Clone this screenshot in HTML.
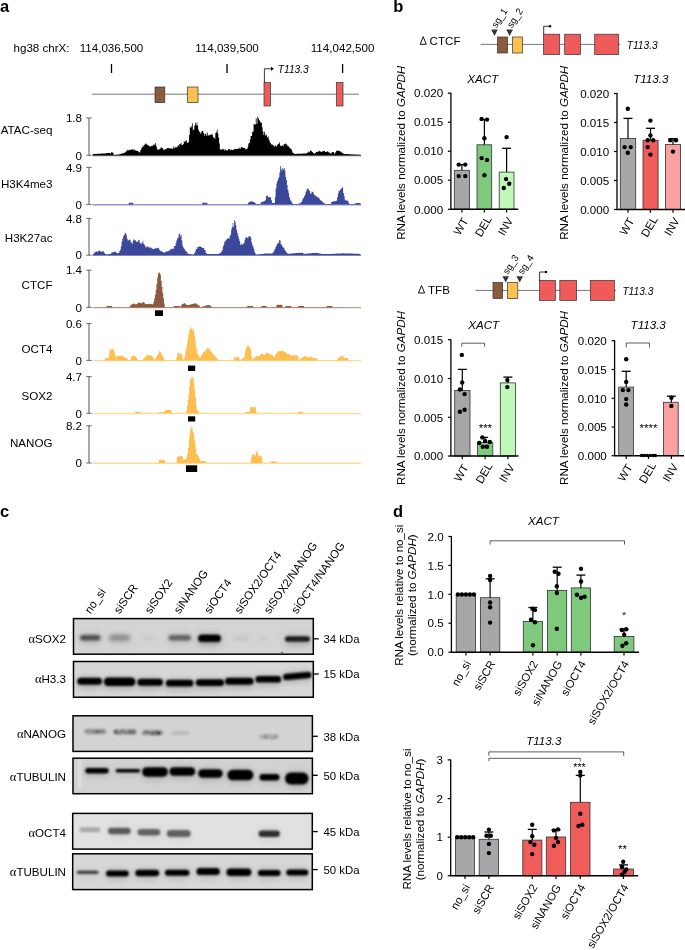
<!DOCTYPE html>
<html><head><meta charset="utf-8"><style>
html,body{margin:0;padding:0;background:#fff;width:685px;height:950px;overflow:hidden;}
svg{display:block;will-change:transform;}
text{font-family:"Liberation Sans",sans-serif;fill:#000;}
</style></head><body>
<svg width="685" height="950" viewBox="0 0 685 950">
<defs>
<filter id="b5" x="-30%" y="-200%" width="160%" height="500%"><feGaussianBlur stdDeviation="0.5"/></filter>
<filter id="b6" x="-30%" y="-200%" width="160%" height="500%"><feGaussianBlur stdDeviation="0.6"/></filter>
<filter id="b7" x="-30%" y="-200%" width="160%" height="500%"><feGaussianBlur stdDeviation="0.7"/></filter>
<filter id="b8" x="-30%" y="-200%" width="160%" height="500%"><feGaussianBlur stdDeviation="0.8"/></filter>
<filter id="b9" x="-30%" y="-200%" width="160%" height="500%"><feGaussianBlur stdDeviation="0.9"/></filter>
<filter id="b10" x="-30%" y="-200%" width="160%" height="500%"><feGaussianBlur stdDeviation="1.0"/></filter>
<filter id="b11" x="-30%" y="-200%" width="160%" height="500%"><feGaussianBlur stdDeviation="1.1"/></filter>
<filter id="b12" x="-30%" y="-200%" width="160%" height="500%"><feGaussianBlur stdDeviation="1.2"/></filter>
<filter id="b13" x="-30%" y="-200%" width="160%" height="500%"><feGaussianBlur stdDeviation="1.3"/></filter>
<filter id="b14" x="-30%" y="-200%" width="160%" height="500%"><feGaussianBlur stdDeviation="1.4"/></filter>
<filter id="b15" x="-30%" y="-200%" width="160%" height="500%"><feGaussianBlur stdDeviation="1.5"/></filter>
<filter id="b16" x="-30%" y="-200%" width="160%" height="500%"><feGaussianBlur stdDeviation="1.6"/></filter>
<filter id="b17" x="-30%" y="-200%" width="160%" height="500%"><feGaussianBlur stdDeviation="1.7"/></filter>
<filter id="b18" x="-30%" y="-200%" width="160%" height="500%"><feGaussianBlur stdDeviation="1.8"/></filter>
<filter id="b19" x="-30%" y="-200%" width="160%" height="500%"><feGaussianBlur stdDeviation="1.9"/></filter>
<filter id="b20" x="-30%" y="-200%" width="160%" height="500%"><feGaussianBlur stdDeviation="2.0"/></filter>
<filter id="b21" x="-30%" y="-200%" width="160%" height="500%"><feGaussianBlur stdDeviation="2.1"/></filter>
<filter id="b22" x="-30%" y="-200%" width="160%" height="500%"><feGaussianBlur stdDeviation="2.2"/></filter>
<filter id="b23" x="-30%" y="-200%" width="160%" height="500%"><feGaussianBlur stdDeviation="2.3"/></filter>
<filter id="b24" x="-30%" y="-200%" width="160%" height="500%"><feGaussianBlur stdDeviation="2.4"/></filter>
<filter id="b25" x="-30%" y="-200%" width="160%" height="500%"><feGaussianBlur stdDeviation="2.5"/></filter>
<filter id="b26" x="-30%" y="-200%" width="160%" height="500%"><feGaussianBlur stdDeviation="2.6"/></filter>
<filter id="b27" x="-30%" y="-200%" width="160%" height="500%"><feGaussianBlur stdDeviation="2.7"/></filter>
<filter id="b28" x="-30%" y="-200%" width="160%" height="500%"><feGaussianBlur stdDeviation="2.8"/></filter>
<filter id="b29" x="-30%" y="-200%" width="160%" height="500%"><feGaussianBlur stdDeviation="2.9"/></filter>
<filter id="b30" x="-30%" y="-200%" width="160%" height="500%"><feGaussianBlur stdDeviation="3.0"/></filter>
<filter id="spk" x="-20%" y="-150%" width="140%" height="400%" color-interpolation-filters="sRGB"><feTurbulence type="fractalNoise" baseFrequency="0.28 0.45" numOctaves="1" seed="7" result="nz"/><feColorMatrix in="nz" type="matrix" values="0 0 0 0 0  0 0 0 0 0  0 0 0 0 0  0 0 0 2.2 -0.55" result="na"/><feComposite in="SourceGraphic" in2="na" operator="in" result="c"/><feGaussianBlur in="c" stdDeviation="1.0"/></filter>
</defs>
<text x="0.0" y="11.8" font-size="16.5" font-weight="bold">a</text>
<text x="13.5" y="51.7" font-size="11.6">hg38 chrX:</text>
<text x="111.5" y="51.7" font-size="11.6" text-anchor="middle">114,036,500</text>
<text x="227.0" y="51.7" font-size="11.6" text-anchor="middle">114,039,500</text>
<text x="342.6" y="51.7" font-size="11.6" text-anchor="middle">114,042,500</text>
<line x1="111.5" y1="64.0" x2="111.5" y2="73.0" stroke="#000" stroke-width="1.3"/>
<line x1="227.0" y1="64.0" x2="227.0" y2="73.0" stroke="#000" stroke-width="1.3"/>
<line x1="342.6" y1="64.0" x2="342.6" y2="73.0" stroke="#000" stroke-width="1.3"/>
<line x1="92.0" y1="94.2" x2="359.0" y2="94.2" stroke="#6a6a6a" stroke-width="0.9"/>
<rect x="155.0" y="87.0" width="9.8" height="15.6" fill="#8c5a3c" stroke="#333" stroke-width="0.7"/>
<rect x="187.5" y="87.0" width="10.5" height="15.5" fill="#fcc24d" stroke="#333" stroke-width="0.7"/>
<rect x="264.0" y="82.5" width="6.5" height="23.5" fill="#ef5a5a" stroke="#333" stroke-width="0.7"/>
<rect x="336.5" y="82.5" width="6.5" height="23.5" fill="#ef5a5a" stroke="#333" stroke-width="0.7"/>
<path d="M264.4,82.5 V68.8 H271" fill="none" stroke="#000" stroke-width="0.8"/>
<path d="M271,66.8 L274,68.8 L271,70.8 Z" fill="#000"/>
<text x="277.8" y="72.7" font-size="10.2" font-style="italic">T113.3</text>
<text x="52.5" y="133.7" font-size="11.6" text-anchor="end">ATAC-seq</text>
<text x="82.0" y="122.2" font-size="11.6" text-anchor="end">1.8</text>
<text x="82.0" y="159.5" font-size="11.6" text-anchor="end">0</text>
<line x1="89.0" y1="118.0" x2="89.0" y2="155.3" stroke="#707070" stroke-width="1.2"/>
<line x1="86.3" y1="118.0" x2="91.6" y2="118.0" stroke="#707070" stroke-width="1.1"/>
<line x1="86.3" y1="155.3" x2="91.6" y2="155.3" stroke="#707070" stroke-width="1.1"/>
<line x1="92.5" y1="155.5" x2="361" y2="155.5" stroke="#000" stroke-width="1.4" stroke-opacity="0.55"/>
<polygon points="92.5,155.3 93.1,154.0 93.8,154.0 93.8,154.0 94.6,154.0 94.6,153.9 95.3,153.9 95.3,153.9 96.1,153.9 96.1,153.9 96.8,153.9 96.8,153.8 97.6,153.8 97.6,153.8 98.3,153.8 98.3,153.8 99.1,153.8 99.1,153.7 99.8,153.7 99.8,153.7 100.6,153.7 100.6,153.7 101.3,153.7 101.3,153.6 102.1,153.6 102.1,153.6 102.8,153.6 102.8,153.6 103.6,153.6 103.6,153.5 104.3,153.5 104.3,153.5 105.1,153.5 105.1,153.4 105.8,153.4 105.8,153.3 106.6,153.3 106.6,153.2 107.3,153.2 107.3,153.1 108.1,153.1 108.1,152.9 108.8,152.9 108.8,152.9 109.6,152.9 109.6,153.0 110.3,153.0 110.3,153.4 111.1,153.4 111.1,152.1 111.8,152.1 111.8,152.8 112.6,152.8 112.6,152.3 113.3,152.3 113.3,154.6 114.1,154.6 114.1,154.9 114.8,154.9 114.8,154.9 115.6,154.9 115.6,154.8 116.3,154.8 116.3,154.7 117.1,154.7 117.1,154.7 117.8,154.7 117.8,154.6 118.6,154.6 118.6,154.5 119.3,154.5 119.3,154.3 120.1,154.3 120.1,154.1 120.8,154.1 120.8,153.8 121.6,153.8 121.6,153.6 122.3,153.6 122.3,153.4 123.1,153.4 123.1,153.1 123.8,153.1 123.8,152.9 124.6,152.9 124.6,152.5 125.3,152.5 125.3,151.7 126.1,151.7 126.1,151.3 126.8,151.3 126.8,150.4 127.6,150.4 127.6,149.5 128.3,149.5 128.3,150.5 129.1,150.5 129.1,150.0 129.8,150.0 129.8,149.7 130.6,149.7 130.6,149.7 131.3,149.7 131.3,149.6 132.1,149.6 132.1,149.3 132.8,149.3 132.8,149.4 133.6,149.4 133.6,150.5 134.3,150.5 134.3,149.6 135.1,149.6 135.1,150.4 135.8,150.4 135.8,150.6 136.6,150.6 136.6,151.1 137.3,151.1 137.3,151.0 138.1,151.0 138.1,151.6 138.8,151.6 138.8,152.6 139.6,152.6 139.6,152.3 140.3,152.3 140.3,149.9 141.1,149.9 141.1,148.7 141.8,148.7 141.8,147.3 142.6,147.3 142.6,145.5 143.3,145.5 143.3,146.4 144.1,146.4 144.1,145.1 144.8,145.1 144.8,143.8 145.6,143.8 145.6,143.4 146.3,143.4 146.3,144.5 147.1,144.5 147.1,144.7 147.8,144.7 147.8,145.5 148.6,145.5 148.6,145.5 149.3,145.5 149.3,146.5 150.1,146.5 150.1,146.4 150.8,146.4 150.8,146.3 151.6,146.3 151.6,145.4 152.3,145.4 152.3,146.1 153.1,146.1 153.1,144.6 153.8,144.6 153.8,144.6 154.6,144.6 154.6,145.3 155.3,145.3 155.3,142.9 156.1,142.9 156.1,146.4 156.8,146.4 156.8,148.7 157.6,148.7 157.6,150.3 158.3,150.3 158.3,149.6 159.1,149.6 159.1,149.2 159.8,149.2 159.8,148.7 160.6,148.7 160.6,147.5 161.3,147.5 161.3,147.5 162.1,147.5 162.1,148.1 162.8,148.1 162.8,149.5 163.6,149.5 163.6,149.4 164.3,149.4 164.3,149.9 165.1,149.9 165.1,148.9 165.8,148.9 165.8,149.2 166.6,149.2 166.6,148.3 167.3,148.3 167.3,148.0 168.1,148.0 168.1,148.1 168.8,148.1 168.8,148.4 169.6,148.4 169.6,148.0 170.3,148.0 170.3,148.7 171.1,148.7 171.1,148.2 171.8,148.2 171.8,148.7 172.6,148.7 172.6,148.7 173.3,148.7 173.3,146.6 174.1,146.6 174.1,148.2 174.8,148.2 174.8,147.6 175.6,147.6 175.6,146.8 176.3,146.8 176.3,147.4 177.1,147.4 177.1,146.7 177.8,146.7 177.8,145.0 178.6,145.0 178.6,146.3 179.3,146.3 179.3,144.0 180.1,144.0 180.1,144.3 180.8,144.3 180.8,143.1 181.6,143.1 181.6,145.0 182.3,145.0 182.3,145.0 183.1,145.0 183.1,144.1 183.8,144.1 183.8,141.2 184.6,141.2 184.6,142.2 185.3,142.2 185.3,140.8 186.1,140.8 186.1,140.2 186.8,140.2 186.8,142.7 187.6,142.7 187.6,143.1 188.3,143.1 188.3,141.8 189.1,141.8 189.1,135.0 189.8,135.0 189.8,126.9 190.6,126.9 190.6,127.9 191.3,127.9 191.3,125.9 192.1,125.9 192.1,123.3 192.8,123.3 192.8,130.2 193.6,130.2 193.6,129.2 194.3,129.2 194.3,125.5 195.1,125.5 195.1,122.7 195.8,122.7 195.8,125.3 196.6,125.3 196.6,122.4 197.3,122.4 197.3,125.4 198.1,125.4 198.1,129.5 198.8,129.5 198.8,131.6 199.6,131.6 199.6,132.0 200.3,132.0 200.3,133.8 201.1,133.8 201.1,132.3 201.8,132.3 201.8,130.7 202.6,130.7 202.6,131.1 203.3,131.1 203.3,133.1 204.1,133.1 204.1,135.7 204.8,135.7 204.8,133.9 205.6,133.9 205.6,133.4 206.3,133.4 206.3,135.9 207.1,135.9 207.1,132.5 207.8,132.5 207.8,135.3 208.6,135.3 208.6,135.7 209.3,135.7 209.3,134.8 210.1,134.8 210.1,135.1 210.8,135.1 210.8,134.6 211.6,134.6 211.6,133.8 212.3,133.8 212.3,135.3 213.1,135.3 213.1,137.4 213.8,137.4 213.8,137.4 214.6,137.4 214.6,138.9 215.3,138.9 215.3,133.1 216.1,133.1 216.1,132.3 216.8,132.3 216.8,129.7 217.6,129.7 217.6,133.6 218.3,133.6 218.3,137.5 219.1,137.5 219.1,143.5 219.8,143.5 219.8,149.5 220.6,149.5 220.6,149.4 221.3,149.4 221.3,149.6 222.1,149.6 222.1,149.2 222.8,149.2 222.8,149.3 223.6,149.3 223.6,149.0 224.3,149.0 224.3,150.4 225.1,150.4 225.1,149.6 225.8,149.6 225.8,150.1 226.6,150.1 226.6,150.8 227.3,150.8 227.3,150.6 228.1,150.6 228.1,149.0 228.8,149.0 228.8,149.1 229.6,149.1 229.6,149.4 230.3,149.4 230.3,150.3 231.1,150.3 231.1,149.6 231.8,149.6 231.8,150.1 232.6,150.1 232.6,150.3 233.3,150.3 233.3,149.5 234.1,149.5 234.1,149.3 234.8,149.3 234.8,148.8 235.6,148.8 235.6,149.3 236.3,149.3 236.3,148.8 237.1,148.8 237.1,149.1 237.8,149.1 237.8,149.1 238.6,149.1 238.6,147.6 239.3,147.6 239.3,148.4 240.1,148.4 240.1,148.7 240.8,148.7 240.8,147.3 241.6,147.3 241.6,147.1 242.3,147.1 242.3,147.8 243.1,147.8 243.1,147.8 243.8,147.8 243.8,148.0 244.6,148.0 244.6,148.0 245.3,148.0 245.3,149.6 246.1,149.6 246.1,149.0 246.8,149.0 246.8,148.8 247.6,148.8 247.6,146.7 248.3,146.7 248.3,143.4 249.1,143.4 249.1,143.0 249.8,143.0 249.8,139.4 250.6,139.4 250.6,136.0 251.3,136.0 251.3,136.0 252.1,136.0 252.1,132.0 252.8,132.0 252.8,131.4 253.6,131.4 253.6,123.9 254.3,123.9 254.3,124.5 255.1,124.5 255.1,124.6 255.8,124.6 255.8,118.3 256.6,118.3 256.6,124.1 257.4,124.1 257.4,116.6 258.1,116.6 258.1,118.2 258.9,118.2 258.9,120.1 259.6,120.1 259.6,121.2 260.4,121.2 260.4,122.7 261.1,122.7 261.1,122.8 261.9,122.8 261.9,127.3 262.6,127.3 262.6,131.5 263.4,131.5 263.4,134.7 264.1,134.7 264.1,131.8 264.9,131.8 264.9,135.8 265.6,135.8 265.6,134.2 266.4,134.2 266.4,135.6 267.1,135.6 267.1,137.6 267.9,137.6 267.9,136.5 268.6,136.5 268.6,139.4 269.4,139.4 269.4,141.5 270.1,141.5 270.1,143.0 270.9,143.0 270.9,143.9 271.6,143.9 271.6,145.0 272.4,145.0 272.4,144.4 273.1,144.4 273.1,145.6 273.9,145.6 273.9,146.9 274.6,146.9 274.6,145.4 275.4,145.4 275.4,145.5 276.1,145.5 276.1,146.5 276.9,146.5 276.9,145.2 277.6,145.2 277.6,143.8 278.4,143.8 278.4,143.9 279.1,143.9 279.1,142.4 279.9,142.4 279.9,145.3 280.6,145.3 280.6,146.3 281.4,146.3 281.4,146.1 282.1,146.1 282.1,145.2 282.9,145.2 282.9,146.3 283.6,146.3 283.6,144.2 284.4,144.2 284.4,144.1 285.1,144.1 285.1,143.4 285.9,143.4 285.9,144.5 286.6,144.5 286.6,144.5 287.4,144.5 287.4,146.3 288.1,146.3 288.1,146.3 288.9,146.3 288.9,147.2 289.6,147.2 289.6,148.1 290.4,148.1 290.4,149.0 291.1,149.0 291.1,149.4 291.9,149.4 291.9,151.4 292.6,151.4 292.6,152.9 293.4,152.9 293.4,153.3 294.1,153.3 294.1,153.7 294.9,153.7 294.9,153.9 295.6,153.9 295.6,153.9 296.4,153.9 296.4,153.8 297.1,153.8 297.1,153.8 297.9,153.8 297.9,153.8 298.6,153.8 298.6,153.8 299.4,153.8 299.4,153.7 300.1,153.7 300.1,153.7 300.9,153.7 300.9,153.7 301.6,153.7 301.6,153.7 302.4,153.7 302.4,153.6 303.1,153.6 303.1,153.6 303.9,153.6 303.9,153.6 304.6,153.6 304.6,153.5 305.4,153.5 305.4,153.5 306.1,153.5 306.1,153.3 306.9,153.3 306.9,152.9 307.6,152.9 307.6,152.3 308.4,152.3 308.4,151.4 309.1,151.4 309.1,152.3 309.9,152.3 309.9,150.2 310.6,150.2 310.6,150.9 311.4,150.9 311.4,151.3 312.1,151.3 312.1,152.0 312.9,152.0 312.9,152.9 313.6,152.9 313.6,153.5 314.4,153.5 314.4,153.6 315.1,153.6 315.1,153.0 315.9,153.0 315.9,151.7 316.6,151.7 316.6,152.0 317.4,152.0 317.4,152.1 318.1,152.1 318.1,151.2 318.9,151.2 318.9,150.7 319.6,150.7 319.6,151.4 320.4,151.4 320.4,151.5 321.1,151.5 321.1,152.0 321.9,152.0 321.9,151.5 322.6,151.5 322.6,151.3 323.4,151.3 323.4,151.0 324.1,151.0 324.1,150.8 324.9,150.8 324.9,152.1 325.6,152.1 325.6,152.1 326.4,152.1 326.4,151.8 327.1,151.8 327.1,151.3 327.9,151.3 327.9,152.4 328.6,152.4 328.6,151.8 329.4,151.8 329.4,152.9 330.1,152.9 330.1,153.6 330.9,153.6 330.9,153.4 331.6,153.4 331.6,152.2 332.4,152.2 332.4,151.9 333.1,151.9 333.1,151.9 333.9,151.9 333.9,153.4 334.6,153.4 334.6,153.6 335.4,153.6 335.4,151.9 336.1,151.9 336.1,150.7 336.9,150.7 336.9,150.4 337.6,150.4 337.6,150.9 338.4,150.9 338.4,150.4 339.1,150.4 339.1,151.1 339.9,151.1 339.9,151.3 340.6,151.3 340.6,152.1 341.4,152.1 341.4,152.5 342.1,152.5 342.1,152.9 342.9,152.9 342.9,153.4 343.6,153.4 343.6,153.9 344.4,153.9 344.4,153.9 345.1,153.9 345.1,154.0 345.9,154.0 345.9,154.0 346.6,154.0 346.6,154.1 347.4,154.1 347.4,154.1 348.1,154.1 348.1,154.2 348.9,154.2 348.9,154.2 349.6,154.2 349.6,154.3 350.4,154.3 350.4,154.3 351.1,154.3 351.1,154.4 351.9,154.4 351.9,154.4 352.6,154.4 352.6,154.5 353.4,154.5 353.4,154.5 354.1,154.5 354.1,154.6 354.9,154.6 354.9,154.6 355.6,154.6 355.6,154.6 356.4,154.6 356.4,154.7 357.1,154.7 357.1,154.7 357.9,154.7 357.9,154.7 358.6,154.7 358.6,154.7 359.4,154.7 359.4,154.8 360.1,154.8 360.0,154.8 361,155.3" fill="#000"/>
<text x="52.5" y="188.3" font-size="11.6" text-anchor="end">H3K4me3</text>
<text x="82.0" y="171.6" font-size="11.6" text-anchor="end">4.9</text>
<text x="82.0" y="208.7" font-size="11.6" text-anchor="end">0</text>
<line x1="89.0" y1="167.4" x2="89.0" y2="204.5" stroke="#707070" stroke-width="1.2"/>
<line x1="86.3" y1="167.4" x2="91.6" y2="167.4" stroke="#707070" stroke-width="1.1"/>
<line x1="86.3" y1="204.5" x2="91.6" y2="204.5" stroke="#707070" stroke-width="1.1"/>
<line x1="92.5" y1="204.7" x2="361" y2="204.7" stroke="#3b479b" stroke-width="1.4" stroke-opacity="0.55"/>
<polygon points="92.5,204.5 127.9,204.4 128.7,204.4 128.7,202.8 129.4,202.8 129.4,202.8 130.2,202.8 130.2,202.8 130.9,202.8 130.9,202.8 131.7,202.8 131.7,202.8 132.4,202.8 132.4,202.8 133.2,202.8 133.2,204.4 133.9,204.4 133.9,204.4 134.7,204.4 134.7,204.4 135.4,204.4 135.4,204.4 136.2,204.4 136.2,204.4 136.9,204.4 136.9,204.4 137.7,204.4 137.7,204.4 138.4,204.4 138.4,204.4 139.2,204.4 139.2,204.4 139.9,204.4 139.9,204.4 140.7,204.4 140.7,204.4 141.4,204.4 141.4,204.4 142.2,204.4 142.2,204.4 142.9,204.4 142.9,204.4 143.7,204.4 143.7,204.4 144.4,204.4 144.4,204.4 145.2,204.4 145.2,204.4 145.9,204.4 145.9,204.4 146.7,204.4 146.7,204.4 147.4,204.4 147.4,204.4 148.2,204.4 148.2,204.4 148.9,204.4 148.9,204.4 149.7,204.4 149.7,204.4 150.4,204.4 150.4,204.4 151.2,204.4 151.2,204.4 151.9,204.4 151.9,204.4 152.7,204.4 152.7,204.4 153.4,204.4 153.4,204.4 154.2,204.4 154.2,204.4 154.9,204.4 154.9,204.4 155.7,204.4 155.7,204.4 156.4,204.4 156.4,204.4 157.2,204.4 157.2,204.4 157.9,204.4 157.9,204.4 158.7,204.4 158.7,204.4 159.4,204.4 159.4,204.4 160.2,204.4 160.2,204.4 160.9,204.4 160.9,204.4 161.7,204.4 161.7,204.4 162.4,204.4 162.4,204.4 163.2,204.4 163.2,204.4 163.9,204.4 163.9,204.4 164.7,204.4 164.7,204.4 165.4,204.4 165.4,204.4 166.2,204.4 166.2,204.4 166.9,204.4 166.9,204.4 167.7,204.4 167.7,204.4 168.4,204.4 168.4,204.4 169.2,204.4 169.2,204.4 169.9,204.4 169.9,204.4 170.7,204.4 170.7,204.4 171.4,204.4 171.4,204.4 172.2,204.4 172.2,204.4 172.9,204.4 172.9,204.4 173.7,204.4 173.7,204.4 174.4,204.4 174.4,204.4 175.2,204.4 175.2,204.4 175.9,204.4 175.9,204.4 176.7,204.4 176.7,204.4 177.4,204.4 177.4,204.4 178.2,204.4 178.2,204.4 178.9,204.4 178.9,204.4 179.7,204.4 179.7,204.4 180.4,204.4 180.4,204.4 181.2,204.4 181.2,204.4 181.9,204.4 181.9,204.4 182.7,204.4 182.7,204.4 183.4,204.4 183.4,204.4 184.2,204.4 184.2,204.4 184.9,204.4 184.9,204.4 185.7,204.4 185.7,204.4 186.4,204.4 186.4,204.4 187.2,204.4 187.2,204.4 187.9,204.4 187.9,204.4 188.7,204.4 188.7,204.4 189.4,204.4 189.4,204.4 190.2,204.4 190.2,204.4 190.9,204.4 190.9,204.4 191.7,204.4 191.7,204.4 192.4,204.4 192.4,204.4 193.2,204.4 193.2,204.4 193.9,204.4 193.9,204.4 194.7,204.4 194.7,204.4 195.4,204.4 195.4,204.4 196.2,204.4 196.2,204.4 196.9,204.4 196.9,204.4 197.7,204.4 197.7,204.4 198.4,204.4 198.4,204.4 199.2,204.4 199.2,204.4 199.9,204.4 199.9,204.4 200.7,204.4 200.7,204.4 201.4,204.4 201.4,204.4 202.2,204.4 202.2,202.8 202.9,202.8 202.9,202.8 203.7,202.8 203.7,202.8 204.4,202.8 204.4,202.8 205.2,202.8 205.2,202.8 205.9,202.8 205.9,202.8 206.7,202.8 206.7,202.8 207.4,202.8 207.4,204.4 208.2,204.4 208.2,204.4 208.9,204.4 208.9,204.4 209.7,204.4 209.7,204.4 210.4,204.4 210.4,204.4 211.2,204.4 211.2,204.4 211.9,204.4 211.9,204.4 212.7,204.4 212.7,204.4 213.4,204.4 213.4,204.4 214.2,204.4 214.2,204.4 214.9,204.4 214.9,204.4 215.7,204.4 215.7,204.4 216.4,204.4 216.4,204.4 217.2,204.4 217.2,204.4 217.9,204.4 217.9,204.4 218.7,204.4 218.7,204.4 219.4,204.4 219.4,204.4 220.2,204.4 220.2,204.4 220.9,204.4 220.9,204.4 221.7,204.4 221.7,204.4 222.4,204.4 222.4,204.4 223.2,204.4 223.2,204.4 223.9,204.4 223.9,204.4 224.7,204.4 224.7,204.4 225.4,204.4 225.4,204.4 226.2,204.4 226.2,204.4 226.9,204.4 226.9,204.4 227.7,204.4 227.7,204.4 228.4,204.4 228.4,204.4 229.2,204.4 229.2,204.4 229.9,204.4 229.9,204.4 230.7,204.4 230.7,204.4 231.4,204.4 231.4,204.4 232.2,204.4 232.2,204.4 232.9,204.4 232.9,204.4 233.7,204.4 233.7,204.4 234.4,204.4 234.4,204.4 235.2,204.4 235.2,204.4 235.9,204.4 235.9,204.4 236.7,204.4 236.7,204.4 237.4,204.4 237.4,204.4 238.2,204.4 238.2,204.4 238.9,204.4 238.9,204.4 239.7,204.4 239.7,204.4 240.4,204.4 240.4,204.4 241.2,204.4 241.2,204.4 241.9,204.4 241.9,204.4 242.7,204.4 242.7,204.4 243.4,204.4 243.4,204.4 244.2,204.4 244.2,204.4 244.9,204.4 244.9,204.4 245.7,204.4 245.7,204.4 246.4,204.4 246.4,204.4 247.2,204.4 247.2,204.4 247.9,204.4 247.9,202.8 248.7,202.8 248.7,202.4 249.4,202.4 249.4,202.1 250.2,202.1 250.2,201.6 250.9,201.6 250.9,201.2 251.7,201.2 251.7,201.5 252.4,201.5 252.4,201.8 253.2,201.8 253.2,202.0 253.9,202.0 253.9,202.1 254.7,202.1 254.7,202.9 255.4,202.9 255.4,203.6 256.1,203.6 256.1,204.0 256.9,204.0 256.9,204.0 257.6,204.0 257.6,204.0 258.4,204.0 258.4,204.0 259.1,204.0 259.1,204.0 259.9,204.0 259.9,204.0 260.6,204.0 260.6,202.4 261.4,202.4 261.4,202.3 262.1,202.3 262.1,201.7 262.9,201.7 262.9,201.7 263.6,201.7 263.6,201.3 264.4,201.3 264.4,200.7 265.1,200.7 265.1,200.3 265.9,200.3 265.9,196.2 266.6,196.2 266.6,195.4 267.4,195.4 267.4,195.9 268.1,195.9 268.1,197.4 268.9,197.4 268.9,197.0 269.6,197.0 269.6,197.2 270.4,197.2 270.4,197.6 271.1,197.6 271.1,200.2 271.9,200.2 271.9,202.9 272.6,202.9 272.6,202.9 273.4,202.9 273.4,202.9 274.1,202.9 274.1,202.9 274.9,202.9 274.9,197.0 275.6,197.0 275.6,188.6 276.4,188.6 276.4,183.5 277.1,183.5 277.1,181.0 277.9,181.0 277.9,179.1 278.6,179.1 278.6,176.9 279.4,176.9 279.4,172.5 280.1,172.5 280.1,165.9 280.9,165.9 280.9,169.1 281.6,169.1 281.6,170.7 282.4,170.7 282.4,167.7 283.1,167.7 283.1,168.9 283.9,168.9 283.9,168.0 284.6,168.0 284.6,170.5 285.4,170.5 285.4,176.9 286.1,176.9 286.1,180.0 286.9,180.0 286.9,185.1 287.6,185.1 287.6,189.8 288.4,189.8 288.4,193.0 289.1,193.0 289.1,197.2 289.9,197.2 289.9,199.6 290.6,199.6 290.6,200.8 291.4,200.8 291.4,202.2 292.1,202.2 292.1,203.2 292.9,203.2 292.9,204.0 293.6,204.0 293.6,204.0 294.4,204.0 294.4,204.0 295.1,204.0 295.1,204.0 295.9,204.0 295.9,204.0 296.6,204.0 296.6,204.0 297.4,204.0 297.4,204.0 298.1,204.0 298.1,203.8 298.9,203.8 298.9,203.6 299.6,203.6 299.6,203.3 300.4,203.3 300.4,203.0 301.1,203.0 301.1,202.0 301.9,202.0 301.9,200.5 302.6,200.5 302.6,198.3 303.4,198.3 303.4,197.9 304.1,197.9 304.1,195.9 304.9,195.9 304.9,194.6 305.6,194.6 305.6,191.8 306.4,191.8 306.4,189.8 307.1,189.8 307.1,188.4 307.9,188.4 307.9,188.8 308.6,188.8 308.6,190.2 309.4,190.2 309.4,191.1 310.1,191.1 310.1,193.7 310.9,193.7 310.9,193.5 311.6,193.5 311.6,191.6 312.4,191.6 312.4,192.1 313.1,192.1 313.1,192.7 313.9,192.7 313.9,195.1 314.6,195.1 314.6,195.0 315.4,195.0 315.4,196.3 316.1,196.3 316.1,196.4 316.9,196.4 316.9,197.1 317.6,197.1 317.6,197.7 318.4,197.7 318.4,197.5 319.1,197.5 319.1,198.8 319.9,198.8 319.9,199.9 320.6,199.9 320.6,200.5 321.4,200.5 321.4,201.2 322.1,201.2 322.1,201.7 322.9,201.7 322.9,202.4 323.6,202.4 323.6,202.9 324.4,202.9 324.4,203.4 325.1,203.4 325.1,204.0 325.9,204.0 325.9,204.0 326.6,204.0 326.6,204.0 327.4,204.0 327.4,204.0 328.1,204.0 328.1,204.0 328.9,204.0 328.9,204.0 329.6,204.0 329.6,204.0 330.4,204.0 330.4,204.0 331.1,204.0 331.1,202.1 331.9,202.1 331.9,201.8 332.6,201.8 332.6,201.7 333.4,201.7 333.4,201.3 334.1,201.3 334.1,201.1 334.9,201.1 334.9,201.3 335.6,201.3 335.6,201.1 336.4,201.1 336.4,200.5 337.1,200.5 337.1,197.3 337.9,197.3 337.9,193.4 338.6,193.4 338.6,190.6 339.4,190.6 339.4,191.2 340.1,191.2 340.1,189.3 340.9,189.3 340.9,189.0 341.6,189.0 341.6,188.1 342.4,188.1 342.4,186.8 343.1,186.8 343.1,192.9 343.9,192.9 343.9,196.0 344.6,196.0 344.6,199.6 345.4,199.6 345.4,200.7 346.1,200.7 346.1,200.3 346.9,200.3 346.9,200.7 347.6,200.7 347.6,200.8 348.4,200.8 348.4,202.9 349.1,202.9 349.1,204.0 349.9,204.0 349.9,204.0 350.6,204.0 350.6,204.0 351.4,204.0 351.4,204.0 352.1,204.0 352.1,204.0 352.9,204.0 352.9,204.0 353.6,204.0 353.6,204.0 354.4,204.0 354.4,204.0 355.1,204.0 355.1,203.3 355.9,203.3 355.9,202.9 356.6,202.9 356.6,202.9 357.4,202.9 357.4,202.9 358.1,202.9 358.1,202.9 358.9,202.9 358.9,202.9 359.6,202.9 359.6,202.9 360.4,202.9 360.0,202.9 361,204.5" fill="#3b479b"/>
<text x="52.5" y="241.7" font-size="11.6" text-anchor="end">H3K27ac</text>
<text x="82.0" y="222.6" font-size="11.6" text-anchor="end">4.8</text>
<text x="82.0" y="259.4" font-size="11.6" text-anchor="end">0</text>
<line x1="89.0" y1="218.4" x2="89.0" y2="255.2" stroke="#707070" stroke-width="1.2"/>
<line x1="86.3" y1="218.4" x2="91.6" y2="218.4" stroke="#707070" stroke-width="1.1"/>
<line x1="86.3" y1="255.2" x2="91.6" y2="255.2" stroke="#707070" stroke-width="1.1"/>
<line x1="92.5" y1="255.4" x2="361" y2="255.4" stroke="#3b479b" stroke-width="1.4" stroke-opacity="0.55"/>
<polygon points="92.5,255.2 93.1,253.9 93.8,253.9 93.8,253.2 94.6,253.2 94.6,252.3 95.3,252.3 95.3,251.7 96.1,251.7 96.1,251.3 96.8,251.3 96.8,252.0 97.6,252.0 97.6,251.4 98.3,251.4 98.3,250.8 99.1,250.8 99.1,250.6 99.8,250.6 99.8,251.2 100.6,251.2 100.6,251.4 101.3,251.4 101.3,251.9 102.1,251.9 102.1,251.3 102.8,251.3 102.8,251.0 103.6,251.0 103.6,252.3 104.3,252.3 104.3,253.2 105.1,253.2 105.1,254.2 105.8,254.2 105.8,254.5 106.6,254.5 106.6,254.4 107.3,254.4 107.3,254.3 108.1,254.3 108.1,254.2 108.8,254.2 108.8,254.1 109.6,254.1 109.6,254.0 110.3,254.0 110.3,253.9 111.1,253.9 111.1,252.7 111.8,252.7 111.8,252.3 112.6,252.3 112.6,252.6 113.3,252.6 113.3,252.0 114.1,252.0 114.1,251.6 114.8,251.6 114.8,251.7 115.6,251.7 115.6,251.9 116.3,251.9 116.3,253.0 117.1,253.0 117.1,253.2 117.8,253.2 117.8,253.1 118.6,253.1 118.6,252.9 119.3,252.9 119.3,250.9 120.1,250.9 120.1,249.7 120.8,249.7 120.8,246.5 121.6,246.5 121.6,241.4 122.3,241.4 122.3,239.0 123.1,239.0 123.1,236.4 123.8,236.4 123.8,235.1 124.6,235.1 124.6,233.5 125.3,233.5 125.3,232.8 126.1,232.8 126.1,234.7 126.8,234.7 126.8,238.5 127.6,238.5 127.6,240.5 128.3,240.5 128.3,240.3 129.1,240.3 129.1,239.2 129.8,239.2 129.8,239.9 130.6,239.9 130.6,242.3 131.3,242.3 131.3,242.8 132.1,242.8 132.1,243.7 132.8,243.7 132.8,240.6 133.6,240.6 133.6,239.0 134.3,239.0 134.3,240.4 135.1,240.4 135.1,240.1 135.8,240.1 135.8,241.6 136.6,241.6 136.6,241.9 137.3,241.9 137.3,241.8 138.1,241.8 138.1,240.2 138.8,240.2 138.8,239.7 139.6,239.7 139.6,242.7 140.3,242.7 140.3,243.6 141.1,243.6 141.1,243.7 141.8,243.7 141.8,242.5 142.6,242.5 142.6,240.8 143.3,240.8 143.3,243.9 144.1,243.9 144.1,244.4 144.8,244.4 144.8,246.1 145.6,246.1 145.6,247.8 146.3,247.8 146.3,246.6 147.1,246.6 147.1,246.7 147.8,246.7 147.8,246.8 148.6,246.8 148.6,247.0 149.3,247.0 149.3,248.1 150.1,248.1 150.1,247.3 150.8,247.3 150.8,247.8 151.6,247.8 151.6,248.6 152.3,248.6 152.3,248.8 153.1,248.8 153.1,248.9 153.8,248.9 153.8,248.9 154.6,248.9 154.6,248.6 155.3,248.6 155.3,248.1 156.1,248.1 156.1,248.4 156.8,248.4 156.8,248.2 157.6,248.2 157.6,247.5 158.3,247.5 158.3,248.1 159.1,248.1 159.1,249.7 159.8,249.7 159.8,250.5 160.6,250.5 160.6,251.2 161.3,251.2 161.3,251.2 162.1,251.2 162.1,252.1 162.8,252.1 162.8,251.9 163.6,251.9 163.6,252.9 164.3,252.9 164.3,252.5 165.1,252.5 165.1,252.0 165.8,252.0 165.8,251.5 166.6,251.5 166.6,251.0 167.3,251.0 167.3,251.8 168.1,251.8 168.1,251.0 168.8,251.0 168.8,250.4 169.6,250.4 169.6,250.2 170.3,250.2 170.3,249.1 171.1,249.1 171.1,249.3 171.8,249.3 171.8,248.6 172.6,248.6 172.6,249.3 173.3,249.3 173.3,248.5 174.1,248.5 174.1,246.0 174.8,246.0 174.8,246.0 175.6,246.0 175.6,243.2 176.3,243.2 176.3,240.5 177.1,240.5 177.1,238.2 177.8,238.2 177.8,237.8 178.6,237.8 178.6,234.0 179.3,234.0 179.3,233.5 180.1,233.5 180.1,236.4 180.8,236.4 180.8,234.8 181.6,234.8 181.6,240.4 182.3,240.4 182.3,245.7 183.1,245.7 183.1,247.6 183.8,247.6 183.8,248.8 184.6,248.8 184.6,249.4 185.3,249.4 185.3,251.1 186.1,251.1 186.1,251.5 186.8,251.5 186.8,252.4 187.6,252.4 187.6,253.4 188.3,253.4 188.3,253.9 189.1,253.9 189.1,254.0 189.8,254.0 189.8,254.1 190.6,254.1 190.6,254.2 191.3,254.2 191.3,254.3 192.1,254.3 192.1,254.4 192.8,254.4 192.8,254.5 193.6,254.5 193.6,254.0 194.3,254.0 194.3,252.9 195.1,252.9 195.1,251.3 195.8,251.3 195.8,249.1 196.6,249.1 196.6,248.9 197.3,248.9 197.3,247.1 198.1,247.1 198.1,247.1 198.8,247.1 198.8,246.8 199.6,246.8 199.6,245.8 200.3,245.8 200.3,246.7 201.1,246.7 201.1,247.0 201.8,247.0 201.8,247.7 202.6,247.7 202.6,248.0 203.3,248.0 203.3,248.0 204.1,248.0 204.1,250.0 204.8,250.0 204.8,249.9 205.6,249.9 205.6,252.7 206.3,252.7 206.3,253.6 207.1,253.6 207.1,253.9 207.8,253.9 207.8,253.9 208.6,253.9 208.6,253.9 209.3,253.9 209.3,253.9 210.1,253.9 210.1,253.9 210.8,253.9 210.8,253.9 211.6,253.9 211.6,253.9 212.3,253.9 212.3,253.9 213.1,253.9 213.1,253.9 213.8,253.9 213.8,253.9 214.6,253.9 214.6,253.9 215.3,253.9 215.3,253.9 216.1,253.9 216.1,253.9 216.8,253.9 216.8,253.9 217.6,253.9 217.6,253.9 218.3,253.9 218.3,253.9 219.1,253.9 219.1,253.6 219.8,253.6 219.8,252.9 220.6,252.9 220.6,252.6 221.3,252.6 221.3,251.4 222.1,251.4 222.1,250.0 222.8,250.0 222.8,246.4 223.6,246.4 223.6,244.5 224.3,244.5 224.3,241.4 225.1,241.4 225.1,241.2 225.8,241.2 225.8,240.0 226.6,240.0 226.6,238.9 227.3,238.9 227.3,238.6 228.1,238.6 228.1,238.0 228.8,238.0 228.8,238.8 229.6,238.8 229.6,236.0 230.3,236.0 230.3,234.5 231.1,234.5 231.1,229.5 231.8,229.5 231.8,227.3 232.6,227.3 232.6,223.1 233.3,223.1 233.3,226.7 234.1,226.7 234.1,220.0 234.8,220.0 234.8,221.8 235.6,221.8 235.6,225.1 236.3,225.1 236.3,229.7 237.1,229.7 237.1,233.1 237.8,233.1 237.8,235.8 238.6,235.8 238.6,238.5 239.3,238.5 239.3,241.1 240.1,241.1 240.1,245.1 240.8,245.1 240.8,243.3 241.6,243.3 241.6,244.9 242.3,244.9 242.3,244.3 243.1,244.3 243.1,243.8 243.8,243.8 243.8,242.6 244.6,242.6 244.6,239.7 245.3,239.7 245.3,237.7 246.1,237.7 246.1,237.1 246.8,237.1 246.8,237.7 247.6,237.7 247.6,238.3 248.3,238.3 248.3,236.6 249.1,236.6 249.1,236.3 249.8,236.3 249.8,236.0 250.6,236.0 250.6,237.8 251.3,237.8 251.3,242.2 252.1,242.2 252.1,244.9 252.8,244.9 252.8,246.8 253.6,246.8 253.6,248.9 254.3,248.9 254.3,252.0 255.1,252.0 255.1,253.5 255.8,253.5 255.8,254.6 256.6,254.6 256.6,254.5 257.4,254.5 257.4,254.4 258.1,254.4 258.1,254.4 258.9,254.4 258.9,254.3 259.6,254.3 259.6,254.2 260.4,254.2 260.4,254.1 261.1,254.1 261.1,254.0 261.9,254.0 261.9,253.9 262.6,253.9 262.6,253.9 263.4,253.9 263.4,253.8 264.1,253.8 264.1,253.7 264.9,253.7 264.9,253.6 265.6,253.6 265.6,253.5 266.4,253.5 266.4,253.5 267.1,253.5 267.1,253.5 267.9,253.5 267.9,253.5 268.6,253.5 268.6,253.5 269.4,253.5 269.4,253.5 270.1,253.5 270.1,253.5 270.9,253.5 270.9,253.5 271.6,253.5 271.6,253.5 272.4,253.5 272.4,253.1 273.1,253.1 273.1,252.1 273.9,252.1 273.9,250.8 274.6,250.8 274.6,248.9 275.4,248.9 275.4,247.3 276.1,247.3 276.1,245.7 276.9,245.7 276.9,243.8 277.6,243.8 277.6,243.4 278.4,243.4 278.4,242.5 279.1,242.5 279.1,240.1 279.9,240.1 279.9,240.5 280.6,240.5 280.6,244.4 281.4,244.4 281.4,244.4 282.1,244.4 282.1,246.6 282.9,246.6 282.9,247.6 283.6,247.6 283.6,247.8 284.4,247.8 284.4,250.0 285.1,250.0 285.1,250.7 285.9,250.7 285.9,252.2 286.6,252.2 286.6,252.8 287.4,252.8 287.4,253.8 288.1,253.8 288.1,253.8 288.9,253.8 288.9,253.8 289.6,253.8 289.6,253.7 290.4,253.7 290.4,253.6 291.1,253.6 291.1,253.5 291.9,253.5 291.9,253.5 292.6,253.5 292.6,253.4 293.4,253.4 293.4,253.3 294.1,253.3 294.1,253.2 294.9,253.2 294.9,253.2 295.6,253.2 295.6,253.1 296.4,253.1 296.4,253.0 297.1,253.0 297.1,253.0 297.9,253.0 297.9,252.9 298.6,252.9 298.6,252.8 299.4,252.8 299.4,252.7 300.1,252.7 300.1,252.9 300.9,252.9 300.9,252.9 301.6,252.9 301.6,252.5 302.4,252.5 302.4,252.8 303.1,252.8 303.1,253.4 303.9,253.4 303.9,253.9 304.6,253.9 304.6,253.8 305.4,253.8 305.4,253.7 306.1,253.7 306.1,253.7 306.9,253.7 306.9,253.6 307.6,253.6 307.6,253.5 308.4,253.5 308.4,253.5 309.1,253.5 309.1,253.4 309.9,253.4 309.9,253.3 310.6,253.3 310.6,253.2 311.4,253.2 311.4,253.2 312.1,253.2 312.1,253.1 312.9,253.1 312.9,253.0 313.6,253.0 313.6,252.9 314.4,252.9 314.4,252.9 315.1,252.9 315.1,252.9 315.9,252.9 315.9,252.9 316.6,252.9 316.6,253.0 317.4,253.0 317.4,253.1 318.1,253.1 318.1,253.3 318.9,253.3 318.9,253.4 319.6,253.4 319.6,253.6 320.4,253.6 320.4,253.7 321.1,253.7 321.1,253.9 321.9,253.9 321.9,253.9 322.6,253.9 322.6,253.9 323.4,253.9 323.4,253.9 324.1,253.9 324.1,253.9 324.9,253.9 324.9,253.9 325.6,253.9 325.6,253.9 326.4,253.9 326.4,253.9 327.1,253.9 327.1,253.9 327.9,253.9 327.9,253.9 328.6,253.9 328.6,253.9 329.4,253.9 329.4,253.9 330.1,253.9 330.1,253.9 330.9,253.9 330.9,253.9 331.6,253.9 331.6,253.9 332.4,253.9 332.4,253.8 333.1,253.8 333.1,253.8 333.9,253.8 333.9,253.8 334.6,253.8 334.6,253.7 335.4,253.7 335.4,253.7 336.1,253.7 336.1,253.6 336.9,253.6 336.9,253.6 337.6,253.6 337.6,253.6 338.4,253.6 338.4,253.5 339.1,253.5 339.1,253.5 339.9,253.5 339.9,253.4 340.6,253.4 340.6,253.4 341.4,253.4 341.4,253.4 342.1,253.4 342.1,253.3 342.9,253.3 342.9,253.3 343.6,253.3 343.6,253.3 344.4,253.3 344.4,253.4 345.1,253.4 345.1,253.4 345.9,253.4 345.9,253.4 346.6,253.4 346.6,253.4 347.4,253.4 347.4,253.5 348.1,253.5 348.1,253.5 348.9,253.5 348.9,253.5 349.6,253.5 349.6,253.5 350.4,253.5 350.4,253.6 351.1,253.6 351.1,253.6 351.9,253.6 351.9,253.6 352.6,253.6 352.6,253.6 353.4,253.6 353.4,253.7 354.1,253.7 354.1,253.7 354.9,253.7 354.9,253.7 355.6,253.7 355.6,253.7 356.4,253.7 356.4,253.8 357.1,253.8 357.1,253.8 357.9,253.8 357.9,253.8 358.6,253.8 358.6,253.8 359.4,253.8 359.4,253.9 360.1,253.9 360.0,253.9 361,255.2" fill="#3b479b"/>
<text x="52.5" y="288.9" font-size="11.6" text-anchor="end">CTCF</text>
<text x="82.0" y="274.4" font-size="11.6" text-anchor="end">1.4</text>
<text x="82.0" y="311.6" font-size="11.6" text-anchor="end">0</text>
<line x1="89.0" y1="270.2" x2="89.0" y2="307.4" stroke="#707070" stroke-width="1.2"/>
<line x1="86.3" y1="270.2" x2="91.6" y2="270.2" stroke="#707070" stroke-width="1.1"/>
<line x1="86.3" y1="307.4" x2="91.6" y2="307.4" stroke="#707070" stroke-width="1.1"/>
<line x1="92.5" y1="307.6" x2="361" y2="307.6" stroke="#8c5a3c" stroke-width="1.4" stroke-opacity="0.55"/>
<polygon points="92.5,307.4 105.4,307.3 106.2,307.3 106.2,306.4 106.9,306.4 106.9,306.1 107.7,306.1 107.7,306.1 108.4,306.1 108.4,306.1 109.2,306.1 109.2,306.1 109.9,306.1 109.9,306.1 110.7,306.1 110.7,306.1 111.4,306.1 111.4,306.1 112.2,306.1 112.2,307.3 112.9,307.3 112.9,307.3 113.7,307.3 113.7,307.3 114.4,307.3 114.4,307.3 115.2,307.3 115.2,307.3 115.9,307.3 115.9,307.3 116.7,307.3 116.7,307.3 117.4,307.3 117.4,307.3 118.2,307.3 118.2,307.3 118.9,307.3 118.9,307.3 119.7,307.3 119.7,307.3 120.4,307.3 120.4,307.3 121.2,307.3 121.2,307.3 121.9,307.3 121.9,307.3 122.7,307.3 122.7,307.3 123.4,307.3 123.4,307.3 124.2,307.3 124.2,307.3 124.9,307.3 124.9,307.3 125.7,307.3 125.7,307.3 126.4,307.3 126.4,307.3 127.2,307.3 127.2,307.3 127.9,307.3 127.9,307.3 128.7,307.3 128.7,307.3 129.4,307.3 129.4,306.6 130.2,306.6 130.2,305.4 130.9,305.4 130.9,304.7 131.7,304.7 131.7,304.3 132.4,304.3 132.4,304.0 133.2,304.0 133.2,303.4 133.9,303.4 133.9,303.7 134.7,303.7 134.7,304.2 135.4,304.2 135.4,304.2 136.2,304.2 136.2,304.3 136.9,304.3 136.9,303.8 137.7,303.8 137.7,302.7 138.4,302.7 138.4,302.6 139.2,302.6 139.2,302.7 139.9,302.7 139.9,302.9 140.7,302.9 140.7,303.3 141.4,303.3 141.4,303.2 142.2,303.2 142.2,302.3 142.9,302.3 142.9,302.1 143.7,302.1 143.7,302.5 144.4,302.5 144.4,303.2 145.2,303.2 145.2,304.3 145.9,304.3 145.9,304.2 146.7,304.2 146.7,304.1 147.4,304.1 147.4,303.9 148.2,303.9 148.2,304.0 148.9,304.0 148.9,303.7 149.7,303.7 149.7,303.8 150.4,303.8 150.4,304.2 151.2,304.2 151.2,304.1 151.9,304.1 151.9,304.4 152.7,304.4 152.7,304.0 153.4,304.0 153.4,301.7 154.2,301.7 154.2,298.5 154.9,298.5 154.9,294.9 155.7,294.9 155.7,289.9 156.4,289.9 156.4,284.1 157.2,284.1 157.2,277.5 157.9,277.5 157.9,273.5 158.7,273.5 158.7,272.2 159.4,272.2 159.4,272.9 160.2,272.9 160.2,274.8 160.9,274.8 160.9,280.7 161.7,280.7 161.7,287.0 162.4,287.0 162.4,292.7 163.2,292.7 163.2,298.3 163.9,298.3 163.9,303.6 164.7,303.6 164.7,307.3 165.4,307.3 165.4,307.3 166.2,307.3 166.2,307.3 166.9,307.3 166.9,307.3 167.7,307.3 167.7,307.3 168.4,307.3 168.4,307.3 169.2,307.3 169.2,307.3 169.9,307.3 169.9,307.3 170.7,307.3 170.7,307.3 171.4,307.3 171.4,307.3 172.2,307.3 172.2,307.3 172.9,307.3 172.9,307.2 173.7,307.2 173.7,306.1 174.4,306.1 174.4,305.9 175.2,305.9 175.2,305.9 175.9,305.9 175.9,305.9 176.7,305.9 176.7,305.9 177.4,305.9 177.4,305.9 178.2,305.9 178.2,305.9 178.9,305.9 178.9,305.9 179.7,305.9 179.7,306.9 180.4,306.9 180.4,306.3 181.2,306.3 181.2,304.7 181.9,304.7 181.9,304.2 182.7,304.2 182.7,303.9 183.4,303.9 183.4,303.4 184.2,303.4 184.2,303.0 184.9,303.0 184.9,303.8 185.7,303.8 185.7,304.6 186.4,304.6 186.4,305.0 187.2,305.0 187.2,305.1 187.9,305.1 187.9,305.3 188.7,305.3 188.7,305.1 189.4,305.1 189.4,304.8 190.2,304.8 190.2,304.6 190.9,304.6 190.9,304.3 191.7,304.3 191.7,303.9 192.4,303.9 192.4,303.9 193.2,303.9 193.2,303.7 193.9,303.7 193.9,303.5 194.7,303.5 194.7,303.6 195.4,303.6 195.4,303.3 196.2,303.3 196.2,303.8 196.9,303.8 196.9,304.4 197.7,304.4 197.7,304.8 198.4,304.8 198.4,305.3 199.2,305.3 199.2,306.2 199.9,306.2 199.9,307.2 200.7,307.2 200.7,307.1 201.4,307.1 201.4,306.9 202.2,306.9 202.2,306.6 202.9,306.6 202.9,306.4 203.7,306.4 203.7,306.2 204.4,306.2 204.4,305.9 205.2,305.9 205.2,305.7 205.9,305.7 205.9,305.4 206.7,305.4 206.7,305.2 207.4,305.2 207.4,305.0 208.2,305.0 208.2,305.1 208.9,305.1 208.9,305.3 209.7,305.3 209.7,305.6 210.4,305.6 210.4,305.8 211.2,305.8 211.2,306.7 211.9,306.7 211.9,307.3 212.7,307.3 212.7,307.3 213.4,307.3 213.4,307.3 214.2,307.3 214.2,307.3 214.9,307.3 214.9,307.3 215.7,307.3 215.7,307.3 216.4,307.3 216.4,307.3 217.2,307.3 217.2,307.3 217.9,307.3 217.9,307.3 218.7,307.3 218.7,307.3 219.4,307.3 219.4,307.3 220.2,307.3 220.2,307.3 220.9,307.3 220.9,307.3 221.7,307.3 221.7,307.3 222.4,307.3 222.4,307.3 223.2,307.3 223.2,307.3 223.9,307.3 223.9,307.3 224.7,307.3 224.7,307.3 225.4,307.3 225.4,307.3 226.2,307.3 226.2,307.3 226.9,307.3 226.9,307.3 227.7,307.3 227.7,307.3 228.4,307.3 228.4,307.3 229.2,307.3 229.2,307.3 229.9,307.3 229.9,307.3 230.7,307.3 230.7,307.3 231.4,307.3 231.4,307.3 232.2,307.3 232.2,307.3 232.9,307.3 232.9,307.3 233.7,307.3 233.7,307.3 234.4,307.3 234.4,307.3 235.2,307.3 235.2,307.3 235.9,307.3 235.9,307.3 236.7,307.3 236.7,307.3 237.4,307.3 237.4,307.3 238.2,307.3 238.2,307.3 238.9,307.3 238.9,307.3 239.7,307.3 239.7,307.3 240.4,307.3 240.4,307.3 241.2,307.3 241.2,307.3 241.9,307.3 241.9,307.3 242.7,307.3 242.7,307.3 243.4,307.3 243.4,307.3 244.2,307.3 244.2,307.3 244.9,307.3 244.9,307.3 245.7,307.3 245.7,307.3 246.4,307.3 246.4,307.3 247.2,307.3 247.2,306.0 247.9,306.0 247.9,306.0 248.7,306.0 248.7,306.0 249.4,306.0 249.4,306.0 250.2,306.0 250.2,306.0 250.9,306.0 250.9,306.0 251.7,306.0 251.7,306.0 252.4,306.0 252.4,306.0 253.2,306.0 253.2,307.3 253.9,307.3 253.9,307.3 254.7,307.3 254.7,307.3 255.4,307.3 255.4,307.3 256.1,307.3 256.1,307.3 256.9,307.3 256.9,307.3 257.6,307.3 257.6,307.3 258.4,307.3 258.4,307.3 259.1,307.3 259.1,307.3 259.9,307.3 259.9,307.3 260.6,307.3 260.6,307.3 261.4,307.3 261.4,306.0 262.1,306.0 262.1,306.0 262.9,306.0 262.9,306.0 263.6,306.0 263.6,306.0 264.4,306.0 264.4,306.0 265.1,306.0 265.1,306.0 265.9,306.0 265.9,306.0 266.6,306.0 266.6,307.3 267.4,307.3 267.4,307.3 268.1,307.3 268.1,307.3 268.9,307.3 268.9,307.3 269.6,307.3 269.6,307.3 270.4,307.3 270.4,307.3 271.1,307.3 271.1,307.3 271.9,307.3 271.9,307.3 272.6,307.3 272.6,307.3 273.4,307.3 273.4,307.3 274.1,307.3 274.1,307.3 274.9,307.3 274.9,307.3 275.6,307.3 275.6,307.3 276.4,307.3 276.4,304.9 277.1,304.9 277.1,304.7 277.9,304.7 277.9,304.7 278.6,304.7 278.6,304.8 279.4,304.8 279.4,304.9 280.1,304.9 280.1,304.7 280.9,304.7 280.9,304.8 281.6,304.8 281.6,304.8 282.4,304.8 282.4,307.3 283.1,307.3 283.1,307.3 283.9,307.3 283.9,307.3 284.6,307.3 284.6,307.3 285.4,307.3 285.4,306.0 286.1,306.0 286.1,306.0 286.9,306.0 286.9,306.0 287.6,306.0 287.6,306.0 288.4,306.0 288.4,306.0 289.1,306.0 289.1,306.0 289.9,306.0 289.9,306.0 290.6,306.0 290.6,306.0 291.4,306.0 291.4,307.3 292.1,307.3 292.1,307.3 292.9,307.3 292.9,307.3 293.6,307.3 293.6,307.3 294.4,307.3 294.4,307.3 295.1,307.3 295.1,307.3 295.9,307.3 295.9,307.3 296.6,307.3 296.6,307.3 297.4,307.3 297.4,307.3 298.1,307.3 298.1,306.0 298.9,306.0 298.9,306.0 299.6,306.0 299.6,306.0 300.4,306.0 300.4,306.0 301.1,306.0 301.1,306.0 301.9,306.0 301.9,306.0 302.6,306.0 302.6,306.0 303.4,306.0 303.4,306.0 304.1,306.0 304.1,307.3 304.9,307.3 304.9,307.3 305.6,307.3 305.6,307.3 306.4,307.3 306.4,307.3 307.1,307.3 307.1,307.3 307.9,307.3 307.9,307.3 308.6,307.3 308.6,307.3 309.4,307.3 309.4,307.3 310.1,307.3 310.1,307.3 310.9,307.3 310.9,307.3 311.6,307.3 311.6,307.3 312.4,307.3 312.4,307.3 313.1,307.3 313.1,307.3 313.9,307.3 313.9,307.3 314.6,307.3 314.6,307.3 315.4,307.3 315.4,307.3 316.1,307.3 316.1,307.3 316.9,307.3 316.9,307.3 317.6,307.3 317.6,307.3 318.4,307.3 318.4,307.3 319.1,307.3 319.1,307.3 319.9,307.3 319.9,307.3 320.6,307.3 320.6,307.3 321.4,307.3 321.4,307.3 322.1,307.3 322.1,307.3 322.9,307.3 322.9,307.3 323.6,307.3 323.6,307.3 324.4,307.3 324.4,307.3 325.1,307.3 325.1,307.3 325.9,307.3 325.9,307.3 326.6,307.3 326.6,306.0 327.4,306.0 327.4,306.0 328.1,306.0 328.1,306.0 328.9,306.0 328.9,306.0 329.6,306.0 329.6,306.0 330.4,306.0 330.4,306.0 331.1,306.0 331.1,306.0 331.9,306.0 331.9,306.0 332.6,306.0 332.1,307.3 361,307.4" fill="#8c5a3c"/>
<text x="52.5" y="353.2" font-size="11.6" text-anchor="end">OCT4</text>
<text x="82.0" y="327.7" font-size="11.6" text-anchor="end">0.6</text>
<text x="82.0" y="364.6" font-size="11.6" text-anchor="end">0</text>
<line x1="89.0" y1="323.5" x2="89.0" y2="360.4" stroke="#707070" stroke-width="1.2"/>
<line x1="86.3" y1="323.5" x2="91.6" y2="323.5" stroke="#707070" stroke-width="1.1"/>
<line x1="86.3" y1="360.4" x2="91.6" y2="360.4" stroke="#707070" stroke-width="1.1"/>
<line x1="92.5" y1="360.6" x2="361" y2="360.6" stroke="#fdbf4f" stroke-width="1.4" stroke-opacity="0.55"/>
<polygon points="92.5,360.4 104.3,360.3 105.0,360.3 105.0,358.7 105.8,358.7 105.8,357.9 106.5,357.9 106.5,357.9 107.3,357.9 107.3,357.9 108.0,357.9 108.0,357.9 108.8,357.9 108.8,354.8 109.5,354.8 109.5,349.0 110.3,349.0 110.3,350.0 111.0,350.0 111.0,349.2 111.8,349.2 111.8,350.3 112.5,350.3 112.5,349.2 113.3,349.2 113.3,348.4 114.0,348.4 114.0,351.9 114.8,351.9 114.8,354.6 115.5,354.6 115.5,357.9 116.3,357.9 116.3,355.9 117.0,355.9 117.0,356.0 117.8,356.0 117.8,355.8 118.5,355.8 118.5,355.5 119.3,355.5 119.3,356.0 120.0,356.0 120.0,355.9 120.8,355.9 120.8,356.0 121.5,356.0 121.5,354.7 122.3,354.7 122.3,355.8 123.0,355.8 123.0,357.0 123.8,357.0 123.8,357.5 124.5,357.5 124.5,357.4 125.3,357.4 125.3,357.4 126.0,357.4 126.0,358.4 126.8,358.4 126.8,357.9 127.5,357.9 127.5,359.5 128.3,359.5 128.3,360.2 129.1,360.2 129.1,360.1 129.8,360.1 129.8,359.9 130.6,359.9 130.6,358.6 131.3,358.6 131.3,356.4 132.1,356.4 132.1,355.7 132.8,355.7 132.8,355.4 133.6,355.4 133.6,355.7 134.3,355.7 134.3,356.0 135.1,356.0 135.1,356.3 135.8,356.3 135.8,357.2 136.6,357.2 136.6,358.1 137.3,358.1 137.3,359.8 138.1,359.8 138.1,360.3 138.8,360.3 138.8,360.2 139.6,360.2 139.6,360.1 140.3,360.1 140.3,360.1 141.1,360.1 141.1,360.0 141.8,360.0 141.8,359.9 142.6,359.9 142.6,359.4 143.3,359.4 143.3,358.4 144.1,358.4 144.1,357.7 144.8,357.7 144.8,357.2 145.6,357.2 145.6,355.3 146.3,355.3 146.3,355.7 147.1,355.7 147.1,354.9 147.8,354.9 147.8,354.8 148.6,354.8 148.6,355.3 149.3,355.3 149.3,355.6 150.1,355.6 150.1,355.4 150.8,355.4 150.8,355.6 151.6,355.6 151.6,356.0 152.3,356.0 152.3,357.1 153.1,357.1 153.1,357.4 153.8,357.4 153.8,358.9 154.6,358.9 154.6,359.9 155.3,359.9 155.3,358.1 156.1,358.1 156.1,357.0 156.8,357.0 156.8,355.7 157.6,355.7 157.6,354.7 158.3,354.7 158.3,353.1 159.1,353.1 159.1,350.8 159.8,350.8 159.8,352.2 160.6,352.2 160.6,351.6 161.3,351.6 161.3,354.7 162.1,354.7 162.1,355.1 162.8,355.1 162.8,356.7 163.6,356.7 163.6,358.9 164.3,358.9 164.3,360.3 165.1,360.3 165.1,360.3 165.8,360.3 165.8,360.3 166.6,360.3 166.6,360.3 167.3,360.3 167.3,360.3 168.1,360.3 168.1,360.3 168.8,360.3 168.8,360.3 169.6,360.3 169.6,360.3 170.3,360.3 170.3,360.3 171.1,360.3 171.1,360.3 171.8,360.3 171.8,360.3 172.6,360.3 172.6,360.3 173.3,360.3 173.3,360.3 174.1,360.3 174.1,360.3 174.8,360.3 174.8,360.3 175.6,360.3 175.6,360.3 176.3,360.3 176.3,357.5 177.1,357.5 177.1,353.2 177.8,353.2 177.8,353.1 178.6,353.1 178.6,353.1 179.3,353.1 179.3,354.3 180.1,354.3 180.1,353.6 180.8,353.6 180.8,353.7 181.6,353.7 181.6,354.3 182.3,354.3 182.3,358.4 183.1,358.4 183.1,359.8 183.8,359.8 183.8,359.1 184.6,359.1 184.6,355.9 185.3,355.9 185.3,351.0 186.1,351.0 186.1,348.0 186.8,348.0 186.8,343.5 187.6,343.5 187.6,338.3 188.3,338.3 188.3,334.5 189.1,334.5 189.1,331.0 189.8,331.0 189.8,328.7 190.6,328.7 190.6,326.8 191.3,326.8 191.3,328.6 192.1,328.6 192.1,330.4 192.8,330.4 192.8,328.6 193.6,328.6 193.6,330.8 194.3,330.8 194.3,335.4 195.1,335.4 195.1,341.9 195.8,341.9 195.8,347.8 196.6,347.8 196.6,350.4 197.3,350.4 197.3,353.9 198.1,353.9 198.1,354.5 198.8,354.5 198.8,356.4 199.6,356.4 199.6,358.0 200.3,358.0 200.3,356.5 201.1,356.5 201.1,355.4 201.8,355.4 201.8,353.9 202.6,353.9 202.6,353.7 203.3,353.7 203.3,351.7 204.1,351.7 204.1,351.2 204.8,351.2 204.8,351.6 205.6,351.6 205.6,349.6 206.3,349.6 206.3,349.2 207.1,349.2 207.1,347.4 207.8,347.4 207.8,348.8 208.6,348.8 208.6,347.4 209.3,347.4 209.3,349.2 210.1,349.2 210.1,350.2 210.8,350.2 210.8,351.7 211.6,351.7 211.6,351.9 212.3,351.9 212.3,353.5 213.1,353.5 213.1,354.7 213.8,354.7 213.8,354.5 214.6,354.5 214.6,356.1 215.3,356.1 215.3,356.8 216.1,356.8 216.1,357.9 216.8,357.9 216.8,358.9 217.6,358.9 217.6,359.4 218.3,359.4 218.3,359.9 219.1,359.9 219.1,360.3 219.8,360.3 219.8,360.3 220.6,360.3 220.6,360.3 221.3,360.3 221.3,360.3 222.1,360.3 222.1,360.3 222.8,360.3 222.8,360.3 223.6,360.3 223.6,360.3 224.3,360.3 224.3,360.3 225.1,360.3 225.1,360.3 225.8,360.3 225.8,360.3 226.6,360.3 226.6,360.3 227.3,360.3 227.3,360.3 228.1,360.3 228.1,360.3 228.8,360.3 228.8,360.3 229.6,360.3 229.6,360.3 230.3,360.3 230.3,360.3 231.1,360.3 231.1,360.3 231.8,360.3 231.8,360.3 232.6,360.3 232.6,360.3 233.3,360.3 233.3,360.3 234.1,360.3 234.1,356.7 234.8,356.7 234.8,357.7 235.6,357.7 235.6,356.9 236.3,356.9 236.3,357.0 237.1,357.0 237.1,357.6 237.8,357.6 237.8,356.8 238.6,356.8 238.6,357.5 239.3,357.5 239.3,359.8 240.1,359.8 240.1,359.9 240.8,359.9 240.8,359.5 241.6,359.5 241.6,359.0 242.3,359.0 242.3,358.6 243.1,358.6 243.1,358.2 243.8,358.2 243.8,357.3 244.6,357.3 244.6,353.4 245.3,353.4 245.3,349.4 246.1,349.4 246.1,346.9 246.8,346.9 246.8,346.4 247.6,346.4 247.6,344.9 248.3,344.9 248.3,346.1 249.1,346.1 249.1,347.4 249.8,347.4 249.8,347.0 250.6,347.0 250.6,350.5 251.3,350.5 251.3,356.7 252.1,356.7 252.1,359.9 252.8,359.9 252.8,359.0 253.6,359.0 253.6,358.1 254.3,358.1 254.3,357.6 255.1,357.6 255.1,357.3 255.8,357.3 255.8,356.0 256.6,356.0 256.6,356.1 257.3,356.1 257.3,356.4 258.1,356.4 258.1,356.2 258.8,356.2 258.8,355.7 259.6,355.7 259.6,355.9 260.3,355.9 260.3,354.9 261.1,354.9 261.1,353.6 261.8,353.6 261.8,353.9 262.6,353.9 262.6,353.8 263.3,353.8 263.3,355.1 264.1,355.1 264.1,355.1 264.8,355.1 264.8,354.4 265.6,354.4 265.6,353.1 266.3,353.1 266.3,352.5 267.1,352.5 267.1,352.9 267.8,352.9 267.8,353.4 268.6,353.4 268.6,353.0 269.3,353.0 269.3,354.1 270.1,354.1 270.1,354.5 270.8,354.5 270.8,355.1 271.6,355.1 271.6,354.9 272.3,354.9 272.3,355.1 273.1,355.1 273.1,357.2 273.8,357.2 273.8,356.6 274.6,356.6 274.6,356.4 275.3,356.4 275.3,354.0 276.1,354.0 276.1,353.8 276.8,353.8 276.8,352.2 277.6,352.2 277.6,351.6 278.3,351.6 278.3,351.6 279.1,351.6 279.1,351.2 279.8,351.2 279.8,351.1 280.6,351.1 280.6,351.3 281.3,351.3 281.3,350.8 282.1,350.8 282.1,349.9 282.8,349.9 282.8,351.5 283.6,351.5 283.6,351.2 284.3,351.2 284.3,351.8 285.1,351.8 285.1,352.4 285.8,352.4 285.8,352.8 286.6,352.8 286.6,352.9 287.3,352.9 287.3,354.5 288.1,354.5 288.1,354.6 288.8,354.6 288.8,354.0 289.6,354.0 289.6,354.6 290.3,354.6 290.3,355.5 291.1,355.5 291.1,356.0 291.8,356.0 291.8,355.3 292.6,355.3 292.6,356.2 293.3,356.2 293.3,354.5 294.1,354.5 294.1,355.7 294.8,355.7 294.8,355.5 295.6,355.5 295.6,355.6 296.3,355.6 296.3,355.4 297.1,355.4 297.1,355.3 297.8,355.3 297.8,356.8 298.6,356.8 298.6,359.9 299.3,359.9 299.3,359.5 300.1,359.5 300.1,359.0 300.8,359.0 300.8,358.5 301.6,358.5 301.6,358.0 302.3,358.0 302.3,357.6 303.1,357.6 303.1,357.0 303.8,357.0 303.8,356.6 304.6,356.6 304.6,355.9 305.3,355.9 305.3,355.8 306.1,355.8 306.1,356.7 306.8,356.7 306.8,357.2 307.6,357.2 307.6,357.2 308.3,357.2 308.3,357.2 309.1,357.2 309.1,357.4 309.8,357.4 309.8,357.0 310.6,357.0 310.6,355.7 311.3,355.7 311.3,356.7 312.1,356.7 312.1,357.3 312.8,357.3 312.8,357.9 313.6,357.9 313.6,357.9 314.3,357.9 314.3,357.9 315.1,357.9 315.1,357.9 315.8,357.9 315.8,357.9 316.6,357.9 316.6,359.0 317.3,359.0 317.3,360.3 318.1,360.3 318.1,360.3 318.8,360.3 318.8,360.3 319.6,360.3 319.6,360.3 320.3,360.3 320.3,360.3 321.1,360.3 321.1,360.3 321.8,360.3 321.8,360.3 322.6,360.3 322.6,360.3 323.3,360.3 323.3,360.3 324.1,360.3 324.1,360.3 324.8,360.3 324.8,360.3 325.6,360.3 325.6,360.3 326.3,360.3 326.3,360.3 327.1,360.3 327.1,360.3 327.8,360.3 327.8,360.3 328.6,360.3 328.6,360.3 329.3,360.3 329.3,360.3 330.1,360.3 330.1,360.3 330.8,360.3 330.8,360.3 331.6,360.3 331.6,360.3 332.3,360.3 332.3,360.3 333.1,360.3 333.1,360.3 333.8,360.3 333.8,360.3 334.6,360.3 334.6,360.3 335.3,360.3 335.3,360.3 336.1,360.3 336.1,360.3 336.8,360.3 336.8,360.3 337.6,360.3 337.6,357.9 338.3,357.9 338.3,357.9 339.1,357.9 339.1,356.8 339.8,356.8 339.8,356.9 340.6,356.9 340.6,356.2 341.3,356.2 341.3,355.9 342.1,355.9 342.1,355.5 342.8,355.5 342.8,356.7 343.6,356.7 343.6,357.8 344.3,357.8 344.3,357.9 345.1,357.9 345.1,357.9 345.8,357.9 345.8,357.9 346.6,357.9 346.6,357.9 347.3,357.9 347.3,357.9 348.1,357.9 348.1,359.3 348.8,359.3 348.3,360.3 361,360.4" fill="#fdbf4f"/>
<text x="52.5" y="400.2" font-size="11.6" text-anchor="end">SOX2</text>
<text x="82.0" y="380.8" font-size="11.6" text-anchor="end">4.7</text>
<text x="82.0" y="417.5" font-size="11.6" text-anchor="end">0</text>
<line x1="89.0" y1="376.6" x2="89.0" y2="413.3" stroke="#707070" stroke-width="1.2"/>
<line x1="86.3" y1="376.6" x2="91.6" y2="376.6" stroke="#707070" stroke-width="1.1"/>
<line x1="86.3" y1="413.3" x2="91.6" y2="413.3" stroke="#707070" stroke-width="1.1"/>
<line x1="92.5" y1="413.5" x2="361" y2="413.5" stroke="#fdbf4f" stroke-width="1.4" stroke-opacity="0.55"/>
<polygon points="92.5,413.3 134.5,413.2 135.2,413.2 135.2,411.8 136.0,411.8 136.0,411.8 136.8,411.8 136.8,411.8 137.5,411.8 137.5,411.8 138.2,411.8 138.2,411.8 139.0,411.8 139.0,411.8 139.8,411.8 139.8,411.8 140.5,411.8 140.5,413.2 141.2,413.2 141.2,413.2 142.0,413.2 142.0,413.2 142.8,413.2 142.8,413.2 143.5,413.2 143.5,413.2 144.2,413.2 144.2,413.2 145.0,413.2 145.0,413.2 145.8,413.2 145.8,413.2 146.5,413.2 146.5,413.2 147.2,413.2 147.2,413.2 148.0,413.2 148.0,413.2 148.8,413.2 148.8,413.2 149.5,413.2 149.5,413.2 150.2,413.2 150.2,413.2 151.0,413.2 151.0,413.2 151.8,413.2 151.8,413.2 152.5,413.2 152.5,413.2 153.2,413.2 153.2,413.2 154.0,413.2 154.0,413.2 154.8,413.2 154.8,413.2 155.5,413.2 155.5,413.2 156.2,413.2 156.2,413.2 157.0,413.2 157.0,413.2 157.8,413.2 157.8,413.2 158.5,413.2 158.5,412.2 159.2,412.2 159.2,412.2 160.0,412.2 160.0,412.2 160.8,412.2 160.8,412.2 161.5,412.2 161.5,412.2 162.2,412.2 162.2,412.2 163.0,412.2 163.0,412.2 163.8,412.2 163.8,411.9 164.5,411.9 164.5,411.0 165.2,411.0 165.2,410.1 166.0,410.1 166.0,409.9 166.8,409.9 166.8,410.0 167.5,410.0 167.5,410.0 168.2,410.0 168.2,410.0 169.0,410.0 169.0,409.9 169.8,409.9 169.8,409.9 170.5,409.9 170.5,409.9 171.2,409.9 171.2,411.7 172.0,411.7 172.0,413.2 172.8,413.2 172.8,413.2 173.5,413.2 173.5,413.2 174.2,413.2 174.2,413.2 175.0,413.2 175.0,413.2 175.8,413.2 175.8,413.2 176.5,413.2 176.5,413.2 177.2,413.2 177.2,413.2 178.0,413.2 178.0,413.2 178.8,413.2 178.8,413.2 179.5,413.2 179.5,413.2 180.2,413.2 180.2,413.2 181.0,413.2 181.0,413.2 181.8,413.2 181.8,413.2 182.5,413.2 182.5,413.2 183.2,413.2 183.2,413.2 184.0,413.2 184.0,413.2 184.8,413.2 184.8,413.2 185.5,413.2 185.5,413.2 186.2,413.2 186.2,410.5 187.0,410.5 187.0,405.4 187.8,405.4 187.8,400.0 188.5,400.0 188.5,394.3 189.2,394.3 189.2,386.3 190.0,386.3 190.0,379.4 190.8,379.4 190.8,377.6 191.5,377.6 191.5,377.8 192.2,377.8 192.2,377.1 193.0,377.1 193.0,379.1 193.8,379.1 193.8,384.0 194.5,384.0 194.5,390.4 195.2,390.4 195.2,397.0 196.0,397.0 196.0,406.3 196.8,406.3 196.8,409.7 197.5,409.7 197.5,410.7 198.2,410.7 198.2,411.7 199.0,411.7 199.0,412.8 199.8,412.8 199.8,413.2 200.5,413.2 200.5,413.2 201.2,413.2 201.2,413.2 202.0,413.2 202.0,413.2 202.8,413.2 202.8,413.2 203.5,413.2 203.5,413.2 204.2,413.2 204.2,413.2 205.0,413.2 205.0,413.2 205.8,413.2 205.8,413.2 206.5,413.2 206.5,413.2 207.2,413.2 207.2,413.2 208.0,413.2 208.0,413.2 208.8,413.2 208.8,413.2 209.5,413.2 209.5,413.2 210.2,413.2 210.2,413.2 211.0,413.2 211.0,413.2 211.8,413.2 211.8,413.2 212.5,413.2 212.5,413.2 213.2,413.2 213.2,413.2 214.0,413.2 214.0,413.2 214.8,413.2 214.8,413.2 215.5,413.2 215.5,413.2 216.2,413.2 216.2,413.2 217.0,413.2 217.0,413.2 217.8,413.2 217.8,413.2 218.5,413.2 218.5,413.2 219.2,413.2 219.2,413.2 220.0,413.2 220.0,413.2 220.8,413.2 220.8,413.2 221.5,413.2 221.5,413.2 222.2,413.2 222.2,413.2 223.0,413.2 223.0,413.2 223.8,413.2 223.8,413.2 224.5,413.2 224.5,413.2 225.2,413.2 225.2,413.2 226.0,413.2 226.0,413.2 226.8,413.2 226.8,413.2 227.5,413.2 227.5,413.2 228.2,413.2 228.2,413.2 229.0,413.2 229.0,413.2 229.8,413.2 229.8,413.2 230.5,413.2 230.5,413.2 231.2,413.2 231.2,413.2 232.0,413.2 232.0,413.2 232.8,413.2 232.8,413.2 233.5,413.2 233.5,413.2 234.2,413.2 234.2,413.2 235.0,413.2 235.0,413.2 235.8,413.2 235.8,413.2 236.5,413.2 236.5,413.2 237.2,413.2 237.2,413.2 238.0,413.2 238.0,413.2 238.8,413.2 238.8,413.2 239.5,413.2 239.5,413.2 240.2,413.2 240.2,413.2 241.0,413.2 241.0,413.2 241.8,413.2 241.8,413.2 242.5,413.2 242.5,413.2 243.2,413.2 243.2,413.2 244.0,413.2 244.0,413.2 244.8,413.2 244.8,413.2 245.5,413.2 245.5,412.2 246.2,412.2 246.2,412.1 247.0,412.1 247.0,412.0 247.8,412.0 247.8,412.0 248.5,412.0 248.5,411.9 249.2,411.9 249.2,411.8 250.0,411.8 250.0,407.6 250.8,407.6 250.8,406.2 251.5,406.2 251.5,406.9 252.2,406.9 252.2,407.3 253.0,407.3 253.0,407.5 253.8,407.5 253.8,407.3 254.5,407.3 254.5,406.9 255.2,406.9 255.2,407.4 256.0,407.4 256.0,412.2 256.8,412.2 256.8,413.2 257.5,413.2 257.5,413.2 258.2,413.2 258.2,413.2 259.0,413.2 259.0,413.2 259.8,413.2 259.8,413.2 260.5,413.2 260.5,413.2 261.2,413.2 261.2,413.2 262.0,413.2 262.0,413.2 262.8,413.2 262.8,413.2 263.5,413.2 263.5,413.2 264.2,413.2 264.2,413.2 265.0,413.2 265.0,413.2 265.8,413.2 265.8,413.2 266.5,413.2 266.5,413.2 267.2,413.2 267.2,413.2 268.0,413.2 268.0,413.2 268.8,413.2 268.8,413.2 269.5,413.2 269.5,413.2 270.2,413.2 270.2,413.2 271.0,413.2 271.0,413.2 271.8,413.2 271.8,413.2 272.5,413.2 272.5,413.2 273.2,413.2 273.2,413.2 274.0,413.2 274.0,413.2 274.8,413.2 274.8,413.2 275.5,413.2 275.5,413.2 276.2,413.2 276.2,413.2 277.0,413.2 277.0,413.2 277.8,413.2 277.8,413.2 278.5,413.2 278.5,413.2 279.2,413.2 279.2,413.2 280.0,413.2 280.0,413.2 280.8,413.2 280.8,413.2 281.5,413.2 281.5,413.2 282.2,413.2 282.2,413.2 283.0,413.2 283.0,413.2 283.8,413.2 283.8,413.2 284.5,413.2 284.5,413.2 285.2,413.2 285.2,413.2 286.0,413.2 286.0,413.2 286.8,413.2 286.8,413.2 287.5,413.2 287.5,413.2 288.2,413.2 288.2,413.2 289.0,413.2 289.0,413.2 289.8,413.2 289.8,413.2 290.5,413.2 290.5,413.2 291.2,413.2 291.2,413.2 292.0,413.2 292.0,413.2 292.8,413.2 292.8,413.2 293.5,413.2 293.5,413.2 294.2,413.2 294.2,413.2 295.0,413.2 295.0,413.2 295.8,413.2 295.8,413.2 296.5,413.2 296.5,413.2 297.2,413.2 297.2,413.2 298.0,413.2 298.0,411.7 298.8,411.7 298.8,411.7 299.5,411.7 299.5,411.7 300.2,411.7 300.2,411.7 301.0,411.7 301.0,411.7 301.8,411.7 301.8,411.7 302.5,411.7 302.5,411.7 303.2,411.7 303.1,413.2 361,413.3" fill="#fdbf4f"/>
<text x="52.5" y="447.4" font-size="11.6" text-anchor="end">NANOG</text>
<text x="82.0" y="430.0" font-size="11.6" text-anchor="end">8.2</text>
<text x="82.0" y="467.2" font-size="11.6" text-anchor="end">0</text>
<line x1="89.0" y1="425.8" x2="89.0" y2="463.0" stroke="#707070" stroke-width="1.2"/>
<line x1="86.3" y1="425.8" x2="91.6" y2="425.8" stroke="#707070" stroke-width="1.1"/>
<line x1="86.3" y1="463.0" x2="91.6" y2="463.0" stroke="#707070" stroke-width="1.1"/>
<line x1="92.5" y1="463.2" x2="361" y2="463.2" stroke="#fdbf4f" stroke-width="1.4" stroke-opacity="0.55"/>
<polygon points="92.5,463.0 158.0,462.9 158.8,462.9 158.8,459.7 159.5,459.7 159.5,460.0 160.2,460.0 160.2,459.7 161.0,459.7 161.0,460.0 161.8,460.0 161.8,460.1 162.5,460.1 162.5,459.9 163.2,459.9 163.2,459.8 164.0,459.8 164.0,460.2 164.8,460.2 164.8,462.9 165.5,462.9 165.5,462.9 166.2,462.9 166.2,462.9 167.0,462.9 167.0,462.9 167.8,462.9 167.8,462.9 168.5,462.9 168.5,462.9 169.2,462.9 169.2,462.9 170.0,462.9 170.0,462.9 170.8,462.9 170.8,462.9 171.5,462.9 171.5,462.9 172.2,462.9 172.2,462.9 173.0,462.9 173.0,462.9 173.8,462.9 173.8,462.9 174.5,462.9 174.5,462.9 175.2,462.9 175.2,462.9 176.0,462.9 176.0,462.9 176.8,462.9 176.8,457.2 177.5,457.2 177.5,457.0 178.2,457.0 178.2,456.6 179.0,456.6 179.0,456.3 179.8,456.3 179.8,456.6 180.5,456.6 180.5,455.7 181.2,455.7 181.2,455.5 182.0,455.5 182.0,456.2 182.8,456.2 182.8,459.8 183.5,459.8 183.5,459.7 184.2,459.7 184.2,459.5 185.0,459.5 185.0,459.0 185.8,459.0 185.8,459.2 186.5,459.2 186.5,456.8 187.2,456.8 187.2,453.1 188.0,453.1 188.0,448.1 188.8,448.1 188.8,439.5 189.5,439.5 189.5,434.2 190.2,434.2 190.2,429.3 191.0,429.3 191.0,427.5 191.8,427.5 191.8,426.9 192.5,426.9 192.5,431.4 193.2,431.4 193.2,433.1 194.0,433.1 194.0,439.2 194.8,439.2 194.8,442.5 195.5,442.5 195.5,448.8 196.2,448.8 196.2,454.2 197.0,454.2 197.0,454.5 197.8,454.5 197.8,455.7 198.5,455.7 198.5,457.0 199.2,457.0 199.2,459.3 200.0,459.3 200.0,461.2 200.8,461.2 200.8,461.1 201.5,461.1 201.5,461.0 202.2,461.0 202.2,461.1 203.0,461.1 203.0,461.1 203.8,461.1 203.8,461.2 204.5,461.2 204.5,461.2 205.2,461.2 205.2,461.3 206.0,461.3 206.0,462.9 206.8,462.9 206.8,462.9 207.5,462.9 207.5,462.9 208.2,462.9 208.2,462.9 209.0,462.9 209.0,462.9 209.8,462.9 209.8,462.9 210.5,462.9 210.5,462.9 211.2,462.9 211.2,462.9 212.0,462.9 212.0,462.9 212.8,462.9 212.8,462.9 213.5,462.9 213.5,462.9 214.2,462.9 214.2,462.9 215.0,462.9 215.0,462.9 215.8,462.9 215.8,462.9 216.5,462.9 216.5,462.9 217.2,462.9 217.2,462.9 218.0,462.9 218.0,462.9 218.8,462.9 218.8,462.9 219.5,462.9 219.5,462.9 220.2,462.9 220.2,462.9 221.0,462.9 221.0,462.9 221.8,462.9 221.8,462.9 222.5,462.9 222.5,462.9 223.2,462.9 223.2,462.9 224.0,462.9 224.0,462.9 224.8,462.9 224.8,462.9 225.5,462.9 225.5,462.9 226.2,462.9 226.2,462.9 227.0,462.9 227.0,462.9 227.8,462.9 227.8,462.9 228.5,462.9 228.5,462.9 229.2,462.9 229.2,462.9 230.0,462.9 230.0,462.9 230.8,462.9 230.8,462.9 231.5,462.9 231.5,462.9 232.2,462.9 232.2,462.9 233.0,462.9 233.0,462.9 233.8,462.9 233.8,462.9 234.5,462.9 234.5,462.9 235.2,462.9 235.2,462.9 236.0,462.9 236.0,462.9 236.8,462.9 236.8,462.9 237.5,462.9 237.5,462.9 238.2,462.9 238.2,462.9 239.0,462.9 239.0,462.9 239.8,462.9 239.8,462.9 240.5,462.9 240.5,462.9 241.2,462.9 241.2,462.9 242.0,462.9 242.0,462.9 242.8,462.9 242.8,462.9 243.5,462.9 243.5,462.9 244.2,462.9 244.2,462.9 245.0,462.9 245.0,462.9 245.8,462.9 245.8,462.9 246.5,462.9 246.5,462.9 247.2,462.9 247.2,462.9 248.0,462.9 248.0,462.9 248.8,462.9 248.8,462.9 249.5,462.9 249.5,462.9 250.2,462.9 250.2,462.9 251.0,462.9 251.0,457.7 251.8,457.7 251.8,454.6 252.5,454.6 252.5,453.9 253.2,453.9 253.2,454.4 254.0,454.4 254.0,455.2 254.8,455.2 254.8,455.4 255.5,455.4 255.5,453.2 256.2,453.2 256.2,451.6 257.0,451.6 257.0,451.3 257.8,451.3 257.8,454.5 258.5,454.5 258.5,456.4 259.2,456.4 259.2,455.7 260.0,455.7 260.0,456.4 260.8,456.4 260.8,456.1 261.5,456.1 261.5,456.4 262.2,456.4 262.2,462.9 263.0,462.9 263.0,462.9 263.8,462.9 263.8,462.9 264.5,462.9 264.5,462.9 265.2,462.9 265.2,462.9 266.0,462.9 266.0,462.9 266.8,462.9 266.8,462.9 267.5,462.9 267.5,462.9 268.2,462.9 268.2,462.9 269.0,462.9 269.0,462.9 269.8,462.9 269.8,462.9 270.5,462.9 270.5,462.9 271.2,462.9 271.2,461.3 272.0,461.3 272.0,461.4 272.8,461.4 272.8,461.4 273.5,461.4 273.5,461.5 274.2,461.5 274.2,461.5 275.0,461.5 275.0,461.6 275.8,461.6 275.8,461.6 276.5,461.6 276.5,461.7 277.2,461.7 276.6,462.9 361,463.0" fill="#fdbf4f"/>
<rect x="155.0" y="310.3" width="8.0" height="5.7" fill="#000"/>
<rect x="188.0" y="365.6" width="7.2" height="5.4" fill="#000"/>
<rect x="188.0" y="416.3" width="7.2" height="5.2" fill="#000"/>
<rect x="186.0" y="465.3" width="11.2" height="6.7" fill="#000"/>
<text x="393.3" y="11.8" font-size="16.5" font-weight="bold">b</text>
<path d="M420.2,44.3 L423.2,36.6 L426.3,44.3 Z" fill="none" stroke="#111" stroke-width="1.0" stroke-linejoin="miter"/>
<text x="429.6" y="44.7" font-size="11.6">CTCF</text>
<line x1="480.5" y1="44.4" x2="620.0" y2="44.4" stroke="#666" stroke-width="0.9"/>
<rect x="497.5" y="37.0" width="10.0" height="16.0" fill="#8c5a3c" stroke="#333" stroke-width="0.7"/>
<rect x="512.5" y="37.0" width="10.0" height="16.0" fill="#fcc24d" stroke="#333" stroke-width="0.7"/>
<rect x="543.5" y="34.2" width="16.2" height="20.4" fill="#ef5a5a" stroke="#333" stroke-width="0.7"/>
<rect x="564.7" y="34.2" width="15.8" height="20.4" fill="#ef5a5a" stroke="#333" stroke-width="0.7"/>
<rect x="594.7" y="34.2" width="24.0" height="20.4" fill="#ef5a5a" stroke="#333" stroke-width="0.7"/>
<path d="M543.7,34.2 V26.3 H549" fill="none" stroke="#000" stroke-width="0.8"/>
<circle cx="550" cy="26.3" r="1.2"/>
<text x="626.7" y="49.1" font-size="10.2" font-style="italic">T113.3</text>
<path d="M491.2,29.4 L497.8,29.4 L494.5,36 Z" fill="#333"/>
<path d="M506.3,29.4 L512.9,29.4 L509.6,36 Z" fill="#333"/>
<text transform="translate(496.5,28.5) rotate(-57)" font-size="9.6" text-anchor="start">sg_1</text>
<text transform="translate(512.0,28.5) rotate(-57)" font-size="9.6" text-anchor="start">sg_2</text>
<text x="482.8" y="82.9" font-size="11.6" text-anchor="middle" font-style="italic">XACT</text>
<text transform="translate(404.8,152.8) rotate(-90)" font-size="11.6" text-anchor="middle">RNA levels normalized to <tspan font-style="italic">GAPDH</tspan></text>
<rect x="454.3" y="170.3" width="15.2" height="39.0" fill="#a7a7aa" stroke="#333" stroke-width="0.8"/>
<rect x="477.0" y="144.8" width="14.7" height="64.5" fill="#7ec97c" stroke="#333" stroke-width="0.8"/>
<rect x="499.2" y="172.1" width="14.8" height="37.2" fill="#bff8b8" stroke="#333" stroke-width="0.8"/>
<line x1="461.9" y1="164.6" x2="461.9" y2="170.3" stroke="#000" stroke-width="1.2"/>
<line x1="457.4" y1="164.6" x2="466.4" y2="164.6" stroke="#000" stroke-width="1.3"/>
<line x1="484.4" y1="119.6" x2="484.4" y2="144.8" stroke="#000" stroke-width="1.2"/>
<line x1="479.9" y1="119.6" x2="488.9" y2="119.6" stroke="#000" stroke-width="1.3"/>
<line x1="506.6" y1="148.3" x2="506.6" y2="172.1" stroke="#000" stroke-width="1.2"/>
<line x1="502.1" y1="148.3" x2="511.1" y2="148.3" stroke="#000" stroke-width="1.3"/>
<circle cx="458.7" cy="164.6" r="2.2"/>
<circle cx="465.3" cy="164.6" r="2.2"/>
<circle cx="458.7" cy="176.1" r="2.2"/>
<circle cx="465.3" cy="176.1" r="2.2"/>
<circle cx="481.6" cy="118.9" r="2.2"/>
<circle cx="487.0" cy="119.6" r="2.2"/>
<circle cx="484.4" cy="138.3" r="2.2"/>
<circle cx="481.6" cy="158.1" r="2.2"/>
<circle cx="487.0" cy="160.0" r="2.2"/>
<circle cx="484.4" cy="175.2" r="2.2"/>
<circle cx="506.6" cy="137.1" r="2.2"/>
<circle cx="506.1" cy="179.1" r="2.2"/>
<circle cx="509.2" cy="183.8" r="2.2"/>
<circle cx="503.8" cy="188.0" r="2.2"/>
<line x1="450.9" y1="92.7" x2="450.9" y2="209.3" stroke="#000" stroke-width="1.3"/>
<line x1="447.9" y1="93.2" x2="450.9" y2="93.2" stroke="#000" stroke-width="1.2"/>
<text x="443.1" y="97.4" font-size="11.6" text-anchor="end">0.020</text>
<line x1="447.9" y1="122.2" x2="450.9" y2="122.2" stroke="#000" stroke-width="1.2"/>
<text x="443.1" y="126.4" font-size="11.6" text-anchor="end">0.015</text>
<line x1="447.9" y1="151.2" x2="450.9" y2="151.2" stroke="#000" stroke-width="1.2"/>
<text x="443.1" y="155.4" font-size="11.6" text-anchor="end">0.010</text>
<line x1="447.9" y1="180.2" x2="450.9" y2="180.2" stroke="#000" stroke-width="1.2"/>
<text x="443.1" y="184.4" font-size="11.6" text-anchor="end">0.005</text>
<line x1="447.9" y1="209.3" x2="450.9" y2="209.3" stroke="#000" stroke-width="1.2"/>
<text x="443.1" y="213.5" font-size="11.6" text-anchor="end">0.000</text>
<line x1="450.3" y1="209.3" x2="518.2" y2="209.3" stroke="#000" stroke-width="1.4"/>
<line x1="461.9" y1="209.3" x2="461.9" y2="212.5" stroke="#000" stroke-width="1.2"/>
<text transform="translate(464.2,228.3) rotate(-60)" font-size="11.3" text-anchor="middle">WT</text>
<line x1="484.4" y1="209.3" x2="484.4" y2="212.5" stroke="#000" stroke-width="1.2"/>
<text transform="translate(486.7,228.3) rotate(-60)" font-size="11.3" text-anchor="middle">DEL</text>
<line x1="506.6" y1="209.3" x2="506.6" y2="212.5" stroke="#000" stroke-width="1.2"/>
<text transform="translate(508.9,228.3) rotate(-60)" font-size="11.3" text-anchor="middle">INV</text>
<text x="650.8" y="83.4" font-size="11.6" text-anchor="middle" font-style="italic">T113.3</text>
<text transform="translate(567.8,152.8) rotate(-90)" font-size="11.6" text-anchor="middle">RNA levels normalized to <tspan font-style="italic">GAPDH</tspan></text>
<rect x="620.3" y="138.5" width="15.4" height="71.0" fill="#a7a7aa" stroke="#333" stroke-width="0.8"/>
<rect x="643.0" y="140.3" width="15.1" height="69.2" fill="#f05c5a" stroke="#333" stroke-width="0.8"/>
<rect x="665.4" y="144.4" width="15.2" height="65.1" fill="#f9a0a0" stroke="#333" stroke-width="0.8"/>
<line x1="628.0" y1="118.4" x2="628.0" y2="138.5" stroke="#000" stroke-width="1.2"/>
<line x1="623.5" y1="118.4" x2="632.5" y2="118.4" stroke="#000" stroke-width="1.3"/>
<line x1="650.5" y1="128.3" x2="650.5" y2="140.3" stroke="#000" stroke-width="1.2"/>
<line x1="646.0" y1="128.3" x2="655.0" y2="128.3" stroke="#000" stroke-width="1.3"/>
<line x1="673.0" y1="138.7" x2="673.0" y2="144.4" stroke="#000" stroke-width="1.2"/>
<line x1="668.5" y1="138.7" x2="677.5" y2="138.7" stroke="#000" stroke-width="1.3"/>
<circle cx="627.8" cy="108.7" r="2.2"/>
<circle cx="624.6" cy="147.1" r="2.2"/>
<circle cx="630.7" cy="147.1" r="2.2"/>
<circle cx="627.8" cy="152.8" r="2.2"/>
<circle cx="650.4" cy="120.6" r="2.2"/>
<circle cx="650.4" cy="135.4" r="2.2"/>
<circle cx="647.7" cy="140.3" r="2.2"/>
<circle cx="653.3" cy="140.3" r="2.2"/>
<circle cx="647.7" cy="147.1" r="2.2"/>
<circle cx="650.4" cy="154.6" r="2.2"/>
<circle cx="670.3" cy="140.3" r="2.2"/>
<circle cx="676.0" cy="140.3" r="2.2"/>
<circle cx="673.0" cy="151.6" r="2.2"/>
<line x1="617.0" y1="93.0" x2="617.0" y2="209.5" stroke="#000" stroke-width="1.3"/>
<line x1="614.0" y1="93.5" x2="617.0" y2="93.5" stroke="#000" stroke-width="1.2"/>
<text x="609.2" y="97.7" font-size="11.6" text-anchor="end">0.020</text>
<line x1="614.0" y1="122.5" x2="617.0" y2="122.5" stroke="#000" stroke-width="1.2"/>
<text x="609.2" y="126.7" font-size="11.6" text-anchor="end">0.015</text>
<line x1="614.0" y1="151.5" x2="617.0" y2="151.5" stroke="#000" stroke-width="1.2"/>
<text x="609.2" y="155.7" font-size="11.6" text-anchor="end">0.010</text>
<line x1="614.0" y1="180.5" x2="617.0" y2="180.5" stroke="#000" stroke-width="1.2"/>
<text x="609.2" y="184.7" font-size="11.6" text-anchor="end">0.005</text>
<line x1="614.0" y1="209.5" x2="617.0" y2="209.5" stroke="#000" stroke-width="1.2"/>
<text x="609.2" y="213.7" font-size="11.6" text-anchor="end">0.000</text>
<line x1="616.4" y1="209.5" x2="685.0" y2="209.5" stroke="#000" stroke-width="1.4"/>
<line x1="628.0" y1="209.5" x2="628.0" y2="212.7" stroke="#000" stroke-width="1.2"/>
<text transform="translate(630.3,228.5) rotate(-60)" font-size="11.3" text-anchor="middle">WT</text>
<line x1="650.4" y1="209.5" x2="650.4" y2="212.7" stroke="#000" stroke-width="1.2"/>
<text transform="translate(652.7,228.5) rotate(-60)" font-size="11.3" text-anchor="middle">DEL</text>
<line x1="673.0" y1="209.5" x2="673.0" y2="212.7" stroke="#000" stroke-width="1.2"/>
<text transform="translate(675.3,228.5) rotate(-60)" font-size="11.3" text-anchor="middle">INV</text>
<path d="M418.5,293.0 L421.5,285.5 L424.6,293.0 Z" fill="none" stroke="#111" stroke-width="1.0" stroke-linejoin="miter"/>
<text x="428.0" y="293.6" font-size="11.6">TFB</text>
<line x1="475.5" y1="290.4" x2="616.3" y2="290.4" stroke="#666" stroke-width="0.9"/>
<rect x="493.0" y="282.5" width="9.6" height="16.0" fill="#8c5a3c" stroke="#333" stroke-width="0.7"/>
<rect x="507.5" y="282.5" width="10.3" height="16.0" fill="#fcc24d" stroke="#333" stroke-width="0.7"/>
<rect x="539.4" y="280.4" width="16.0" height="20.0" fill="#ef5a5a" stroke="#333" stroke-width="0.7"/>
<rect x="559.8" y="280.4" width="16.8" height="20.0" fill="#ef5a5a" stroke="#333" stroke-width="0.7"/>
<rect x="590.4" y="280.4" width="24.0" height="20.0" fill="#ef5a5a" stroke="#333" stroke-width="0.7"/>
<path d="M539.6,280.4 V272 H545" fill="none" stroke="#000" stroke-width="0.8"/>
<circle cx="546" cy="272" r="1.2"/>
<text x="622.4" y="294.8" font-size="10.2" font-style="italic">T113.3</text>
<path d="M502.4,276.2 L509.0,276.2 L505.7,282.6 Z" fill="#333"/>
<path d="M516.4,276.2 L523.0,276.2 L519.7,282.6 Z" fill="#333"/>
<text transform="translate(507.8,275.0) rotate(-57)" font-size="9.6" text-anchor="start">sg_3</text>
<text transform="translate(522.8,275.0) rotate(-57)" font-size="9.6" text-anchor="start">sg_4</text>
<text x="483.7" y="328.7" font-size="11.6" text-anchor="middle" font-style="italic">XACT</text>
<text transform="translate(404.8,398) rotate(-90)" font-size="11.6" text-anchor="middle">RNA levels normalized to <tspan font-style="italic">GAPDH</tspan></text>
<rect x="454.7" y="390.4" width="15.3" height="65.6" fill="#a7a7aa" stroke="#333" stroke-width="0.8"/>
<rect x="477.4" y="442.5" width="15.4" height="13.5" fill="#7ec97c" stroke="#333" stroke-width="0.8"/>
<rect x="500.3" y="382.9" width="15.2" height="73.1" fill="#bff8b8" stroke="#333" stroke-width="0.8"/>
<line x1="462.3" y1="369.4" x2="462.3" y2="390.4" stroke="#000" stroke-width="1.2"/>
<line x1="457.8" y1="369.4" x2="466.8" y2="369.4" stroke="#000" stroke-width="1.3"/>
<line x1="485.1" y1="437.4" x2="485.1" y2="442.5" stroke="#000" stroke-width="1.2"/>
<line x1="482.1" y1="437.4" x2="488.1" y2="437.4" stroke="#000" stroke-width="1.3"/>
<line x1="507.9" y1="377.1" x2="507.9" y2="382.9" stroke="#000" stroke-width="1.2"/>
<line x1="503.4" y1="377.1" x2="512.4" y2="377.1" stroke="#000" stroke-width="1.3"/>
<circle cx="461.8" cy="354.9" r="2.2"/>
<circle cx="462.2" cy="382.5" r="2.2"/>
<circle cx="459.9" cy="389.5" r="2.2"/>
<circle cx="464.6" cy="394.1" r="2.2"/>
<circle cx="459.9" cy="411.7" r="2.2"/>
<circle cx="464.6" cy="409.8" r="2.2"/>
<circle cx="482.3" cy="437.4" r="2.2"/>
<circle cx="479.3" cy="443.0" r="2.2"/>
<circle cx="485.1" cy="440.9" r="2.2"/>
<circle cx="489.8" cy="442.0" r="2.2"/>
<circle cx="482.8" cy="446.7" r="2.2"/>
<circle cx="487.0" cy="446.7" r="2.2"/>
<circle cx="507.3" cy="380.1" r="2.2"/>
<circle cx="507.3" cy="387.1" r="2.2"/>
<line x1="450.9" y1="339.2" x2="450.9" y2="456.0" stroke="#000" stroke-width="1.3"/>
<line x1="447.9" y1="339.7" x2="450.9" y2="339.7" stroke="#000" stroke-width="1.2"/>
<text x="443.1" y="343.9" font-size="11.6" text-anchor="end">0.015</text>
<line x1="447.9" y1="378.5" x2="450.9" y2="378.5" stroke="#000" stroke-width="1.2"/>
<text x="443.1" y="382.7" font-size="11.6" text-anchor="end">0.010</text>
<line x1="447.9" y1="417.3" x2="450.9" y2="417.3" stroke="#000" stroke-width="1.2"/>
<text x="443.1" y="421.5" font-size="11.6" text-anchor="end">0.005</text>
<line x1="447.9" y1="456.0" x2="450.9" y2="456.0" stroke="#000" stroke-width="1.2"/>
<text x="443.1" y="460.2" font-size="11.6" text-anchor="end">0.000</text>
<line x1="450.3" y1="456.0" x2="518.5" y2="456.0" stroke="#000" stroke-width="1.4"/>
<path d="M461.8,346.7 V343.2 H484.6 V346.7" fill="none" stroke="#333" stroke-width="0.8"/>
<text x="485.4" y="432.3" font-size="11.5" text-anchor="middle">***</text>
<line x1="462.3" y1="456.0" x2="462.3" y2="459.2" stroke="#000" stroke-width="1.2"/>
<text transform="translate(464.6,475.0) rotate(-60)" font-size="11.3" text-anchor="middle">WT</text>
<line x1="485.1" y1="456.0" x2="485.1" y2="459.2" stroke="#000" stroke-width="1.2"/>
<text transform="translate(487.4,475.0) rotate(-60)" font-size="11.3" text-anchor="middle">DEL</text>
<line x1="507.9" y1="456.0" x2="507.9" y2="459.2" stroke="#000" stroke-width="1.2"/>
<text transform="translate(510.2,475.0) rotate(-60)" font-size="11.3" text-anchor="middle">INV</text>
<text x="648.2" y="329.1" font-size="11.6" text-anchor="middle" font-style="italic">T113.3</text>
<text transform="translate(567.8,398) rotate(-90)" font-size="11.6" text-anchor="middle">RNA levels normalized to <tspan font-style="italic">GAPDH</tspan></text>
<rect x="618.7" y="387.1" width="14.9" height="68.6" fill="#a7a7aa" stroke="#333" stroke-width="0.8"/>
<rect x="663.5" y="402.3" width="14.7" height="53.4" fill="#f9a0a0" stroke="#333" stroke-width="0.8"/>
<line x1="626.2" y1="371.3" x2="626.2" y2="387.1" stroke="#000" stroke-width="1.2"/>
<line x1="621.7" y1="371.3" x2="630.7" y2="371.3" stroke="#000" stroke-width="1.3"/>
<line x1="671.4" y1="396.2" x2="671.4" y2="402.3" stroke="#000" stroke-width="1.2"/>
<line x1="666.9" y1="396.2" x2="675.9" y2="396.2" stroke="#000" stroke-width="1.3"/>
<circle cx="626.2" cy="359.3" r="2.2"/>
<circle cx="626.2" cy="381.9" r="2.2"/>
<circle cx="622.8" cy="390.1" r="2.2"/>
<circle cx="628.4" cy="390.1" r="2.2"/>
<circle cx="626.2" cy="399.1" r="2.2"/>
<circle cx="626.2" cy="404.5" r="2.2"/>
<circle cx="671.4" cy="397.8" r="2.2"/>
<circle cx="671.4" cy="405.9" r="2.2"/>
<circle cx="641.5" cy="455.5" r="1.8"/>
<circle cx="644.3" cy="455.5" r="1.8"/>
<circle cx="647.2" cy="455.5" r="1.8"/>
<circle cx="650.1" cy="455.5" r="1.8"/>
<circle cx="653.0" cy="455.5" r="1.8"/>
<circle cx="655.3" cy="455.5" r="1.8"/>
<line x1="614.6" y1="340.2" x2="614.6" y2="455.7" stroke="#000" stroke-width="1.3"/>
<line x1="611.6" y1="340.7" x2="614.6" y2="340.7" stroke="#000" stroke-width="1.2"/>
<text x="606.8" y="344.9" font-size="11.6" text-anchor="end">0.020</text>
<line x1="611.6" y1="369.5" x2="614.6" y2="369.5" stroke="#000" stroke-width="1.2"/>
<text x="606.8" y="373.7" font-size="11.6" text-anchor="end">0.015</text>
<line x1="611.6" y1="398.3" x2="614.6" y2="398.3" stroke="#000" stroke-width="1.2"/>
<text x="606.8" y="402.5" font-size="11.6" text-anchor="end">0.010</text>
<line x1="611.6" y1="427.0" x2="614.6" y2="427.0" stroke="#000" stroke-width="1.2"/>
<text x="606.8" y="431.2" font-size="11.6" text-anchor="end">0.005</text>
<line x1="611.6" y1="455.7" x2="614.6" y2="455.7" stroke="#000" stroke-width="1.2"/>
<text x="606.8" y="459.9" font-size="11.6" text-anchor="end">0.000</text>
<line x1="614.0" y1="455.7" x2="684.0" y2="455.7" stroke="#000" stroke-width="1.4"/>
<path d="M626.2,347.5 V343 H649.5 V347.5" fill="none" stroke="#333" stroke-width="0.8"/>
<text x="648.5" y="432.2" font-size="11.5" text-anchor="middle">****</text>
<line x1="626.2" y1="455.7" x2="626.2" y2="458.9" stroke="#000" stroke-width="1.2"/>
<text transform="translate(628.5,474.7) rotate(-60)" font-size="11.3" text-anchor="middle">WT</text>
<line x1="648.5" y1="455.7" x2="648.5" y2="458.9" stroke="#000" stroke-width="1.2"/>
<text transform="translate(650.8,474.7) rotate(-60)" font-size="11.3" text-anchor="middle">DEL</text>
<line x1="671.4" y1="455.7" x2="671.4" y2="458.9" stroke="#000" stroke-width="1.2"/>
<text transform="translate(673.7,474.7) rotate(-60)" font-size="11.3" text-anchor="middle">INV</text>
<text x="0.0" y="517.0" font-size="16.5" font-weight="bold">c</text>
<text transform="translate(90.4,614.4) rotate(-55)" font-size="11.5" text-anchor="start">no_si</text>
<text transform="translate(119.6,614.4) rotate(-55)" font-size="11.5" text-anchor="start">siSCR</text>
<text transform="translate(150.6,614.4) rotate(-55)" font-size="11.5" text-anchor="start">siSOX2</text>
<text transform="translate(179.6,614.4) rotate(-55)" font-size="11.5" text-anchor="start">siNANOG</text>
<text transform="translate(209.9,614.4) rotate(-55)" font-size="11.5" text-anchor="start">siOCT4</text>
<text transform="translate(240.2,614.4) rotate(-55)" font-size="11.5" text-anchor="start">siSOX2/OCT4</text>
<text transform="translate(269.6,614.4) rotate(-55)" font-size="11.5" text-anchor="start">siSOX2/NANOG</text>
<text transform="translate(297.1,614.4) rotate(-55)" font-size="11.5" text-anchor="start">siOCT4/NANOG</text>
<rect x="73.5" y="618.6" width="239.8" height="35.6" fill="#d4d4d4" stroke="#000" stroke-width="1.5"/>
<rect x="73.5" y="661.5" width="239.8" height="35.7" fill="#d8d8d8" stroke="#000" stroke-width="1.5"/>
<rect x="73.0" y="715.8" width="239.4" height="35.6" fill="#d3d3d3" stroke="#000" stroke-width="1.5"/>
<rect x="73.0" y="758.2" width="239.4" height="35.5" fill="#d2d2d2" stroke="#000" stroke-width="1.5"/>
<rect x="72.7" y="813.4" width="239.6" height="35.7" fill="#e1e1e1" stroke="#000" stroke-width="1.5"/>
<rect x="72.7" y="853.8" width="239.6" height="35.8" fill="#d8d8d8" stroke="#000" stroke-width="1.5"/>
<rect x="79.0" y="633.5" width="22.5" height="10.5" rx="5.2" ry="5.2" fill="#000" fill-opacity="0.12" filter="url(#b30)"/>
<rect x="80.0" y="635.0" width="20.5" height="5.5" rx="2.8" ry="2.8" fill="rgb(0,0,0)" fill-opacity="0.6" filter="url(#b17)"/>
<rect x="108.0" y="633.5" width="23.0" height="10.5" rx="5.2" ry="5.2" fill="#000" fill-opacity="0.08" filter="url(#b30)"/>
<rect x="109.0" y="635.0" width="21.0" height="5.5" rx="2.8" ry="2.8" fill="rgb(0,0,0)" fill-opacity="0.32" filter="url(#b20)"/>
<rect x="143.0" y="635.8" width="11.0" height="4.5" rx="2.2" ry="2.2" fill="rgb(0,0,0)" fill-opacity="0.07" filter="url(#b20)"/>
<rect x="167.5" y="633.6" width="24.5" height="10.5" rx="5.2" ry="5.2" fill="#000" fill-opacity="0.1" filter="url(#b30)"/>
<rect x="168.5" y="635.1" width="22.5" height="5.5" rx="2.8" ry="2.8" fill="rgb(0,0,0)" fill-opacity="0.5" filter="url(#b18)"/>
<rect x="197.5" y="634.1" width="24.0" height="11.5" rx="5.8" ry="5.8" fill="#000" fill-opacity="0.25" filter="url(#b30)"/>
<rect x="198.5" y="635.1" width="22.0" height="6.5" rx="3.2" ry="3.2" fill="rgb(0,0,0)" fill-opacity="1.0" filter="url(#b10)"/>
<rect x="198.5" y="635.1" width="22.0" height="6.5" rx="3.2" ry="3.2" fill="rgb(0,0,0)" fill-opacity="0.6" filter="url(#b16)"/>
<rect x="233.0" y="636.0" width="16.0" height="4.5" rx="2.2" ry="2.2" fill="rgb(0,0,0)" fill-opacity="0.09" filter="url(#b20)"/>
<rect x="259.0" y="636.0" width="7.0" height="4.5" rx="2.2" ry="2.2" fill="rgb(0,0,0)" fill-opacity="0.08" filter="url(#b20)"/>
<rect x="284.0" y="635.2" width="27.0" height="10.5" rx="5.2" ry="5.2" fill="#000" fill-opacity="0.18" filter="url(#b30)"/>
<rect x="285.0" y="636.2" width="25.0" height="5.5" rx="2.8" ry="2.8" fill="rgb(0,0,0)" fill-opacity="0.85" filter="url(#b13)"/>
<circle cx="282.0" cy="652.4" r="0.6"/>
<rect x="76.2" y="676.8" width="26.8" height="12.0" rx="6.0" ry="6.0" fill="#000" fill-opacity="0.18" filter="url(#b30)"/>
<rect x="77.2" y="677.8" width="24.8" height="7.0" rx="3.5" ry="3.5" fill="rgb(0,0,0)" fill-opacity="1.0" filter="url(#b10)"/>
<rect x="102.8" y="676.5" width="33.7" height="13.5" rx="6.8" ry="6.8" fill="#000" fill-opacity="0.18" filter="url(#b30)"/>
<rect x="103.8" y="677.5" width="31.7" height="8.5" rx="4.2" ry="4.2" fill="rgb(0,0,0)" fill-opacity="1.0" filter="url(#b10)"/>
<rect x="136.4" y="677.8" width="27.6" height="12.0" rx="6.0" ry="6.0" fill="#000" fill-opacity="0.18" filter="url(#b30)"/>
<rect x="137.4" y="678.8" width="25.6" height="7.0" rx="3.5" ry="3.5" fill="rgb(0,0,0)" fill-opacity="1.0" filter="url(#b10)"/>
<rect x="164.8" y="678.8" width="29.6" height="11.8" rx="5.9" ry="5.9" fill="#000" fill-opacity="0.18" filter="url(#b30)"/>
<rect x="165.8" y="679.8" width="27.6" height="6.8" rx="3.4" ry="3.4" fill="rgb(0,0,0)" fill-opacity="1.0" filter="url(#b10)"/>
<rect x="194.7" y="678.2" width="30.5" height="11.8" rx="5.9" ry="5.9" fill="#000" fill-opacity="0.18" filter="url(#b30)"/>
<rect x="195.7" y="679.2" width="28.5" height="6.8" rx="3.4" ry="3.4" fill="rgb(0,0,0)" fill-opacity="1.0" filter="url(#b10)"/>
<rect x="224.0" y="676.8" width="30.6" height="12.0" rx="6.0" ry="6.0" fill="#000" fill-opacity="0.18" filter="url(#b30)"/>
<rect x="225.0" y="677.8" width="28.6" height="7.0" rx="3.5" ry="3.5" fill="rgb(0,0,0)" fill-opacity="1.0" filter="url(#b10)"/>
<rect x="254.5" y="675.1" width="27.6" height="11.5" rx="5.8" ry="5.8" fill="#000" fill-opacity="0.18" filter="url(#b30)"/>
<rect x="255.5" y="676.1" width="25.6" height="6.5" rx="3.2" ry="3.2" fill="rgb(0,0,0)" fill-opacity="1.0" filter="url(#b10)"/>
<rect x="282.0" y="671.2" width="30.5" height="11.5" rx="5.8" ry="5.8" fill="#000" fill-opacity="0.15" filter="url(#b30)" transform="rotate(-5,297.2,676.0)"/>
<rect x="283.0" y="672.8" width="28.5" height="6.5" rx="3.2" ry="3.2" fill="rgb(0,0,0)" fill-opacity="1.0" filter="url(#b10)" transform="rotate(-5,297.2,676.0)"/>
<rect x="84.5" y="729.2" width="21.5" height="4.5" rx="2.2" ry="2.2" fill="rgb(0,0,0)" fill-opacity="0.2" filter="url(#b16)"/>
<rect x="113.6" y="729.8" width="22.8" height="4.5" rx="2.2" ry="2.2" fill="rgb(0,0,0)" fill-opacity="0.24" filter="url(#b16)"/>
<rect x="142.1" y="730.5" width="20.9" height="4.5" rx="2.2" ry="2.2" fill="rgb(0,0,0)" fill-opacity="0.22" filter="url(#b16)"/>
<rect x="170.6" y="731.0" width="18.9" height="4.0" rx="2.0" ry="2.0" fill="rgb(0,0,0)" fill-opacity="0.07" filter="url(#b18)"/>
<rect x="259.5" y="734.4" width="18.5" height="4.5" rx="2.2" ry="2.2" fill="rgb(0,0,0)" fill-opacity="0.12" filter="url(#b16)"/>
<rect x="84.5" y="729.5" width="21.5" height="4.0" rx="2.0" ry="2.0" fill="#000" fill-opacity="0.45" filter="url(#spk)"/>
<rect x="113.6" y="729.8" width="22.8" height="4.5" rx="2.2" ry="2.2" fill="#000" fill-opacity="0.5" filter="url(#spk)"/>
<rect x="142.1" y="730.5" width="20.9" height="4.5" rx="2.2" ry="2.2" fill="#000" fill-opacity="0.45" filter="url(#spk)"/>
<rect x="150.0" y="731.7" width="10.0" height="3.0" rx="1.5" ry="1.5" fill="#000" fill-opacity="0.5" filter="url(#spk)"/>
<rect x="170.6" y="731.2" width="18.9" height="3.5" rx="1.8" ry="1.8" fill="#000" fill-opacity="0.12" filter="url(#spk)"/>
<rect x="259.5" y="734.6" width="18.5" height="4.0" rx="2.0" ry="2.0" fill="#000" fill-opacity="0.3" filter="url(#spk)"/>
<rect x="78.6" y="760" width="2.2" height="28" fill="#fff" fill-opacity="0.45" filter="url(#b10)"/>
<rect x="84.2" y="766.5" width="25.5" height="10.5" rx="5.2" ry="5.2" fill="#000" fill-opacity="0.12" filter="url(#b30)"/>
<rect x="85.2" y="768.0" width="23.5" height="5.5" rx="2.8" ry="2.8" fill="rgb(0,0,0)" fill-opacity="1.0" filter="url(#b9)"/>
<rect x="114.5" y="767.5" width="26.7" height="8.5" rx="4.2" ry="4.2" fill="#000" fill-opacity="0.08" filter="url(#b30)"/>
<rect x="115.5" y="769.0" width="24.7" height="3.5" rx="1.8" ry="1.8" fill="rgb(0,0,0)" fill-opacity="1.0" filter="url(#b8)"/>
<rect x="141.1" y="765.8" width="27.8" height="14.5" rx="7.2" ry="7.2" fill="#000" fill-opacity="0.15" filter="url(#b30)"/>
<rect x="142.1" y="767.2" width="25.8" height="9.5" rx="4.8" ry="4.8" fill="rgb(0,0,0)" fill-opacity="1.0" filter="url(#b9)"/>
<rect x="168.4" y="765.8" width="27.8" height="13.5" rx="6.8" ry="6.8" fill="#000" fill-opacity="0.15" filter="url(#b30)"/>
<rect x="169.4" y="767.2" width="25.8" height="8.5" rx="4.2" ry="4.2" fill="rgb(0,0,0)" fill-opacity="1.0" filter="url(#b9)"/>
<rect x="197.2" y="767.8" width="26.5" height="13.5" rx="6.8" ry="6.8" fill="#000" fill-opacity="0.15" filter="url(#b30)"/>
<rect x="198.2" y="769.2" width="24.5" height="8.5" rx="4.2" ry="4.2" fill="rgb(0,0,0)" fill-opacity="1.0" filter="url(#b9)"/>
<rect x="226.4" y="768.2" width="28.0" height="15.5" rx="7.8" ry="7.8" fill="#000" fill-opacity="0.15" filter="url(#b30)"/>
<rect x="227.4" y="769.8" width="26.0" height="10.5" rx="5.2" ry="5.2" fill="rgb(0,0,0)" fill-opacity="1.0" filter="url(#b9)"/>
<rect x="258.5" y="772.4" width="22.0" height="11.5" rx="5.8" ry="5.8" fill="#000" fill-opacity="0.12" filter="url(#b30)"/>
<rect x="259.5" y="773.9" width="20.0" height="6.5" rx="3.2" ry="3.2" fill="rgb(0,0,0)" fill-opacity="1.0" filter="url(#b9)"/>
<rect x="284.0" y="770.9" width="25.5" height="17.0" rx="8.5" ry="8.5" fill="#000" fill-opacity="0.15" filter="url(#b30)"/>
<rect x="285.0" y="772.4" width="23.5" height="12.0" rx="6.0" ry="6.0" fill="rgb(0,0,0)" fill-opacity="1.0" filter="url(#b10)"/>
<rect x="79.5" y="827.3" width="20.9" height="5.0" rx="2.5" ry="2.5" fill="rgb(0,0,0)" fill-opacity="0.25" filter="url(#b10)"/>
<rect x="107.0" y="826.2" width="24.7" height="11.5" rx="5.8" ry="5.8" fill="#000" fill-opacity="0.06" filter="url(#b30)"/>
<rect x="108.0" y="827.8" width="22.7" height="6.5" rx="3.2" ry="3.2" fill="rgb(0,0,0)" fill-opacity="0.58" filter="url(#b9)"/>
<rect x="136.6" y="827.5" width="24.7" height="11.5" rx="5.8" ry="5.8" fill="#000" fill-opacity="0.06" filter="url(#b30)"/>
<rect x="137.6" y="829.0" width="22.7" height="6.5" rx="3.2" ry="3.2" fill="rgb(0,0,0)" fill-opacity="0.55" filter="url(#b9)"/>
<rect x="165.8" y="828.5" width="25.9" height="12.0" rx="6.0" ry="6.0" fill="#000" fill-opacity="0.06" filter="url(#b30)"/>
<rect x="166.8" y="830.0" width="23.9" height="7.0" rx="3.5" ry="3.5" fill="rgb(0,0,0)" fill-opacity="0.55" filter="url(#b9)"/>
<rect x="257.6" y="828.9" width="23.3" height="11.5" rx="5.8" ry="5.8" fill="#000" fill-opacity="0.08" filter="url(#b30)"/>
<rect x="258.6" y="830.4" width="21.3" height="6.5" rx="3.2" ry="3.2" fill="rgb(0,0,0)" fill-opacity="0.78" filter="url(#b9)"/>
<rect x="75.8" y="869.2" width="23.7" height="8.0" rx="4.0" ry="4.0" fill="#000" fill-opacity="0.08" filter="url(#b30)"/>
<rect x="76.8" y="870.7" width="21.7" height="3.0" rx="1.5" ry="1.5" fill="rgb(0,0,0)" fill-opacity="0.75" filter="url(#b10)"/>
<rect x="105.0" y="868.9" width="24.8" height="11.0" rx="5.5" ry="5.5" fill="#000" fill-opacity="0.14" filter="url(#b30)"/>
<rect x="106.0" y="870.4" width="22.8" height="6.0" rx="3.0" ry="3.0" fill="rgb(0,0,0)" fill-opacity="1.0" filter="url(#b10)"/>
<rect x="134.3" y="868.2" width="25.9" height="11.5" rx="5.8" ry="5.8" fill="#000" fill-opacity="0.14" filter="url(#b30)"/>
<rect x="135.3" y="869.8" width="23.9" height="6.5" rx="3.2" ry="3.2" fill="rgb(0,0,0)" fill-opacity="1.0" filter="url(#b10)"/>
<rect x="163.9" y="868.3" width="26.6" height="11.0" rx="5.5" ry="5.5" fill="#000" fill-opacity="0.14" filter="url(#b30)"/>
<rect x="164.9" y="869.8" width="24.6" height="6.0" rx="3.0" ry="3.0" fill="rgb(0,0,0)" fill-opacity="1.0" filter="url(#b10)"/>
<rect x="195.4" y="866.4" width="25.5" height="12.0" rx="6.0" ry="6.0" fill="#000" fill-opacity="0.14" filter="url(#b30)"/>
<rect x="196.4" y="867.9" width="23.5" height="7.0" rx="3.5" ry="3.5" fill="rgb(0,0,0)" fill-opacity="1.0" filter="url(#b10)"/>
<rect x="225.4" y="866.9" width="27.0" height="12.5" rx="6.2" ry="6.2" fill="#000" fill-opacity="0.14" filter="url(#b30)"/>
<rect x="226.4" y="868.4" width="25.0" height="7.5" rx="3.8" ry="3.8" fill="rgb(0,0,0)" fill-opacity="1.0" filter="url(#b10)"/>
<rect x="256.9" y="868.5" width="24.7" height="11.0" rx="5.5" ry="5.5" fill="#000" fill-opacity="0.14" filter="url(#b30)"/>
<rect x="257.9" y="870.0" width="22.7" height="6.0" rx="3.0" ry="3.0" fill="rgb(0,0,0)" fill-opacity="1.0" filter="url(#b10)"/>
<rect x="285.3" y="868.0" width="24.0" height="11.0" rx="5.5" ry="5.5" fill="#000" fill-opacity="0.14" filter="url(#b30)"/>
<rect x="286.3" y="869.5" width="22.0" height="6.0" rx="3.0" ry="3.0" fill="rgb(0,0,0)" fill-opacity="1.0" filter="url(#b10)"/>
<text x="66.0" y="642.8" font-size="11.6" text-anchor="end"><tspan font-family="Liberation Serif" font-size="12.5">α</tspan>SOX2</text>
<text x="66.0" y="683.0" font-size="11.6" text-anchor="end"><tspan font-family="Liberation Serif" font-size="12.5">α</tspan>H3.3</text>
<text x="66.0" y="738.3" font-size="11.6" text-anchor="end"><tspan font-family="Liberation Serif" font-size="12.5">α</tspan>NANOG</text>
<text x="66.0" y="780.8" font-size="11.6" text-anchor="end"><tspan font-family="Liberation Serif" font-size="12.5">α</tspan>TUBULIN</text>
<text x="66.0" y="836.7" font-size="11.6" text-anchor="end"><tspan font-family="Liberation Serif" font-size="12.5">α</tspan>OCT4</text>
<text x="66.0" y="876.3" font-size="11.6" text-anchor="end"><tspan font-family="Liberation Serif" font-size="12.5">α</tspan>TUBULIN</text>
<line x1="313.3" y1="638.8" x2="318.7" y2="638.8" stroke="#000" stroke-width="1.3"/>
<text x="323.5" y="643.1" font-size="11.4">34 kDa</text>
<line x1="313.3" y1="674.0" x2="318.7" y2="674.0" stroke="#000" stroke-width="1.3"/>
<text x="323.5" y="678.3" font-size="11.4">15 kDa</text>
<line x1="312.4" y1="736.3" x2="317.8" y2="736.3" stroke="#000" stroke-width="1.3"/>
<text x="323.5" y="740.6" font-size="11.4">38 kDa</text>
<line x1="312.4" y1="775.3" x2="317.8" y2="775.3" stroke="#000" stroke-width="1.3"/>
<text x="323.5" y="779.6" font-size="11.4">50 kDa</text>
<line x1="312.3" y1="831.6" x2="317.7" y2="831.6" stroke="#000" stroke-width="1.3"/>
<text x="323.5" y="835.9" font-size="11.4">45 kDa</text>
<line x1="312.3" y1="869.6" x2="317.7" y2="869.6" stroke="#000" stroke-width="1.3"/>
<text x="323.5" y="873.9" font-size="11.4">50 kDa</text>
<text x="393.0" y="517.1" font-size="16.5" font-weight="bold">d</text>
<text x="543.4" y="525.4" font-size="11.6" text-anchor="middle" font-style="italic">XACT</text>
<text transform="translate(403.4,595.2) rotate(-90)" font-size="11.6" text-anchor="middle">RNA levels relative to no_si</text>
<text transform="translate(415.8,595.2) rotate(-90)" font-size="11.6" text-anchor="middle">(normalized to <tspan font-style="italic">GAPDH</tspan>)</text>
<rect x="456.2" y="594.5" width="19.4" height="57.7" fill="#a7a7aa" stroke="#333" stroke-width="0.8"/>
<rect x="480.4" y="597.7" width="19.4" height="54.5" fill="#a7a7aa" stroke="#333" stroke-width="0.8"/>
<rect x="523.3" y="621.6" width="19.1" height="30.6" fill="#7ec97c" stroke="#333" stroke-width="0.8"/>
<rect x="547.6" y="590.4" width="19.1" height="61.8" fill="#7ec97c" stroke="#333" stroke-width="0.8"/>
<rect x="571.3" y="587.9" width="19.2" height="64.3" fill="#7ec97c" stroke="#333" stroke-width="0.8"/>
<rect x="614.2" y="636.4" width="19.7" height="15.8" fill="#7ec97c" stroke="#333" stroke-width="0.8"/>
<line x1="490.1" y1="578.8" x2="490.1" y2="597.7" stroke="#000" stroke-width="1.2"/>
<line x1="485.6" y1="578.8" x2="494.6" y2="578.8" stroke="#000" stroke-width="1.3"/>
<line x1="532.9" y1="607.5" x2="532.9" y2="621.6" stroke="#000" stroke-width="1.2"/>
<line x1="528.4" y1="607.5" x2="537.4" y2="607.5" stroke="#000" stroke-width="1.3"/>
<line x1="557.2" y1="567.2" x2="557.2" y2="590.4" stroke="#000" stroke-width="1.2"/>
<line x1="552.7" y1="567.2" x2="561.7" y2="567.2" stroke="#000" stroke-width="1.3"/>
<line x1="580.9" y1="575.1" x2="580.9" y2="587.9" stroke="#000" stroke-width="1.2"/>
<line x1="576.4" y1="575.1" x2="585.4" y2="575.1" stroke="#000" stroke-width="1.3"/>
<line x1="624.0" y1="629.2" x2="624.0" y2="636.4" stroke="#000" stroke-width="1.2"/>
<line x1="619.5" y1="629.2" x2="628.5" y2="629.2" stroke="#000" stroke-width="1.3"/>
<circle cx="457.9" cy="594.5" r="2.2"/>
<circle cx="461.9" cy="594.5" r="2.2"/>
<circle cx="465.9" cy="594.5" r="2.2"/>
<circle cx="469.9" cy="594.5" r="2.2"/>
<circle cx="473.9" cy="594.5" r="2.2"/>
<circle cx="490.1" cy="575.9" r="2.2"/>
<circle cx="490.1" cy="580.0" r="2.2"/>
<circle cx="490.1" cy="602.5" r="2.2"/>
<circle cx="490.1" cy="607.3" r="2.2"/>
<circle cx="490.1" cy="622.6" r="2.2"/>
<circle cx="532.5" cy="608.8" r="2.2"/>
<circle cx="535.0" cy="610.1" r="2.2"/>
<circle cx="531.0" cy="619.8" r="2.2"/>
<circle cx="535.0" cy="622.3" r="2.2"/>
<circle cx="533.0" cy="645.3" r="2.2"/>
<circle cx="554.7" cy="571.8" r="2.2"/>
<circle cx="558.5" cy="573.8" r="2.2"/>
<circle cx="556.8" cy="586.3" r="2.2"/>
<circle cx="556.8" cy="593.0" r="2.2"/>
<circle cx="556.8" cy="628.7" r="2.2"/>
<circle cx="581.0" cy="568.7" r="2.2"/>
<circle cx="581.0" cy="581.5" r="2.2"/>
<circle cx="576.9" cy="594.8" r="2.2"/>
<circle cx="581.0" cy="597.8" r="2.2"/>
<circle cx="584.6" cy="596.8" r="2.2"/>
<circle cx="621.9" cy="630.0" r="2.2"/>
<circle cx="626.2" cy="629.2" r="2.2"/>
<circle cx="624.2" cy="634.6" r="2.2"/>
<circle cx="622.4" cy="645.8" r="2.2"/>
<circle cx="626.2" cy="643.3" r="2.2"/>
<line x1="451.4" y1="536.0" x2="451.4" y2="652.2" stroke="#000" stroke-width="1.3"/>
<line x1="448.4" y1="536.5" x2="451.4" y2="536.5" stroke="#000" stroke-width="1.2"/>
<text x="443.6" y="540.7" font-size="11.6" text-anchor="end">2.0</text>
<line x1="448.4" y1="565.4" x2="451.4" y2="565.4" stroke="#000" stroke-width="1.2"/>
<text x="443.6" y="569.6" font-size="11.6" text-anchor="end">1.5</text>
<line x1="448.4" y1="594.3" x2="451.4" y2="594.3" stroke="#000" stroke-width="1.2"/>
<text x="443.6" y="598.5" font-size="11.6" text-anchor="end">1.0</text>
<line x1="448.4" y1="623.2" x2="451.4" y2="623.2" stroke="#000" stroke-width="1.2"/>
<text x="443.6" y="627.4" font-size="11.6" text-anchor="end">0.5</text>
<line x1="448.4" y1="652.2" x2="451.4" y2="652.2" stroke="#000" stroke-width="1.2"/>
<text x="443.6" y="656.4" font-size="11.6" text-anchor="end">0.0</text>
<line x1="450.8" y1="652.2" x2="639.0" y2="652.2" stroke="#000" stroke-width="1.4"/>
<path d="M490.1,544.6 V540.8 H624.5 V544.6" fill="none" stroke="#333" stroke-width="0.8"/>
<text x="624.2" y="618.0" font-size="9.5" text-anchor="middle">*</text>
<line x1="465.9" y1="652.2" x2="465.9" y2="655.4" stroke="#000" stroke-width="1.2"/>
<text transform="translate(471.4,663.5) rotate(-60)" font-size="11.3" text-anchor="end">no_si</text>
<line x1="490.1" y1="652.2" x2="490.1" y2="655.4" stroke="#000" stroke-width="1.2"/>
<text transform="translate(495.6,663.5) rotate(-60)" font-size="11.3" text-anchor="end">siSCR</text>
<line x1="532.9" y1="652.2" x2="532.9" y2="655.4" stroke="#000" stroke-width="1.2"/>
<text transform="translate(538.4,663.5) rotate(-60)" font-size="11.3" text-anchor="end">siSOX2</text>
<line x1="557.2" y1="652.2" x2="557.2" y2="655.4" stroke="#000" stroke-width="1.2"/>
<text transform="translate(562.7,663.5) rotate(-60)" font-size="11.3" text-anchor="end">siNANOG</text>
<line x1="580.9" y1="652.2" x2="580.9" y2="655.4" stroke="#000" stroke-width="1.2"/>
<text transform="translate(586.4,663.5) rotate(-60)" font-size="11.3" text-anchor="end">siOCT4</text>
<line x1="624.0" y1="652.2" x2="624.0" y2="655.4" stroke="#000" stroke-width="1.2"/>
<text transform="translate(629.5,663.5) rotate(-60)" font-size="11.3" text-anchor="end">siSOX2/OCT4</text>
<text x="543.8" y="744.6" font-size="11.6" text-anchor="middle" font-style="italic">T113.3</text>
<text transform="translate(411.3,819) rotate(-90)" font-size="11.6" text-anchor="middle">RNA levels relative to no_si</text>
<text transform="translate(423.7,819.4) rotate(-90)" font-size="11.6" text-anchor="middle">(normalized to <tspan font-style="italic">GAPDH</tspan>)</text>
<rect x="455.5" y="837.3" width="18.9" height="38.5" fill="#a7a7aa" stroke="#333" stroke-width="0.8"/>
<rect x="479.2" y="839.3" width="19.4" height="36.5" fill="#a7a7aa" stroke="#333" stroke-width="0.8"/>
<rect x="522.8" y="840.1" width="19.1" height="35.7" fill="#f05c5a" stroke="#333" stroke-width="0.8"/>
<rect x="546.3" y="837.0" width="19.4" height="38.8" fill="#f05c5a" stroke="#333" stroke-width="0.8"/>
<rect x="570.6" y="802.3" width="19.4" height="73.5" fill="#f05c5a" stroke="#333" stroke-width="0.8"/>
<rect x="613.5" y="869.0" width="19.9" height="6.8" fill="#f05c5a" stroke="#333" stroke-width="0.8"/>
<line x1="488.9" y1="832.0" x2="488.9" y2="839.3" stroke="#000" stroke-width="1.2"/>
<line x1="484.4" y1="832.0" x2="493.4" y2="832.0" stroke="#000" stroke-width="1.3"/>
<line x1="532.3" y1="829.4" x2="532.3" y2="840.1" stroke="#000" stroke-width="1.2"/>
<line x1="527.8" y1="829.4" x2="536.8" y2="829.4" stroke="#000" stroke-width="1.3"/>
<line x1="556.0" y1="829.9" x2="556.0" y2="837.0" stroke="#000" stroke-width="1.2"/>
<line x1="551.5" y1="829.9" x2="560.5" y2="829.9" stroke="#000" stroke-width="1.3"/>
<line x1="580.3" y1="775.4" x2="580.3" y2="802.3" stroke="#000" stroke-width="1.2"/>
<line x1="575.8" y1="775.4" x2="584.8" y2="775.4" stroke="#000" stroke-width="1.3"/>
<line x1="623.5" y1="864.9" x2="623.5" y2="869.0" stroke="#000" stroke-width="1.2"/>
<line x1="619.0" y1="864.9" x2="628.0" y2="864.9" stroke="#000" stroke-width="1.3"/>
<circle cx="457.2" cy="837.3" r="2.2"/>
<circle cx="461.2" cy="837.3" r="2.2"/>
<circle cx="465.2" cy="837.3" r="2.2"/>
<circle cx="469.2" cy="837.3" r="2.2"/>
<circle cx="473.2" cy="837.3" r="2.2"/>
<circle cx="488.9" cy="829.6" r="2.2"/>
<circle cx="486.5" cy="835.7" r="2.2"/>
<circle cx="490.8" cy="835.7" r="2.2"/>
<circle cx="488.9" cy="843.9" r="2.2"/>
<circle cx="488.9" cy="853.1" r="2.2"/>
<circle cx="532.2" cy="824.8" r="2.2"/>
<circle cx="532.2" cy="836.2" r="2.2"/>
<circle cx="530.4" cy="842.1" r="2.2"/>
<circle cx="534.3" cy="844.7" r="2.2"/>
<circle cx="532.2" cy="854.1" r="2.2"/>
<circle cx="553.9" cy="830.4" r="2.2"/>
<circle cx="558.0" cy="829.4" r="2.2"/>
<circle cx="556.0" cy="838.0" r="2.2"/>
<circle cx="558.0" cy="842.1" r="2.2"/>
<circle cx="553.9" cy="845.7" r="2.2"/>
<circle cx="580.3" cy="771.9" r="2.2"/>
<circle cx="580.3" cy="775.4" r="2.2"/>
<circle cx="580.3" cy="813.8" r="2.2"/>
<circle cx="578.5" cy="826.0" r="2.2"/>
<circle cx="582.3" cy="824.8" r="2.2"/>
<circle cx="623.2" cy="861.8" r="2.2"/>
<circle cx="621.9" cy="866.9" r="2.2"/>
<circle cx="626.2" cy="869.5" r="2.2"/>
<circle cx="624.5" cy="872.0" r="2.2"/>
<circle cx="621.9" cy="874.6" r="2.2"/>
<line x1="450.7" y1="759.4" x2="450.7" y2="875.8" stroke="#000" stroke-width="1.3"/>
<line x1="447.7" y1="759.9" x2="450.7" y2="759.9" stroke="#000" stroke-width="1.2"/>
<text x="442.9" y="764.1" font-size="11.6" text-anchor="end">3</text>
<line x1="447.7" y1="798.6" x2="450.7" y2="798.6" stroke="#000" stroke-width="1.2"/>
<text x="442.9" y="802.8" font-size="11.6" text-anchor="end">2</text>
<line x1="447.7" y1="837.2" x2="450.7" y2="837.2" stroke="#000" stroke-width="1.2"/>
<text x="442.9" y="841.4" font-size="11.6" text-anchor="end">1</text>
<line x1="447.7" y1="875.8" x2="450.7" y2="875.8" stroke="#000" stroke-width="1.2"/>
<text x="442.9" y="880.0" font-size="11.6" text-anchor="end">0</text>
<line x1="450.1" y1="875.8" x2="638.3" y2="875.8" stroke="#000" stroke-width="1.4"/>
<path d="M488.9,755.8 V751.9 H623.7 V755.8" fill="none" stroke="#333" stroke-width="0.8"/>
<path d="M488.9,761.1 V758.3 H580.3 V761.4" fill="none" stroke="#333" stroke-width="0.8"/>
<text x="579.5" y="770.6" font-size="10.5" text-anchor="middle">***</text>
<text x="622.4" y="852.6" font-size="11.5" text-anchor="middle">**</text>
<line x1="465.0" y1="875.8" x2="465.0" y2="879.0" stroke="#000" stroke-width="1.2"/>
<text transform="translate(470.5,887.1) rotate(-60)" font-size="11.3" text-anchor="end">no_si</text>
<line x1="488.9" y1="875.8" x2="488.9" y2="879.0" stroke="#000" stroke-width="1.2"/>
<text transform="translate(494.4,887.1) rotate(-60)" font-size="11.3" text-anchor="end">siSCR</text>
<line x1="532.3" y1="875.8" x2="532.3" y2="879.0" stroke="#000" stroke-width="1.2"/>
<text transform="translate(537.8,887.1) rotate(-60)" font-size="11.3" text-anchor="end">siSOX2</text>
<line x1="556.0" y1="875.8" x2="556.0" y2="879.0" stroke="#000" stroke-width="1.2"/>
<text transform="translate(561.5,887.1) rotate(-60)" font-size="11.3" text-anchor="end">siNANOG</text>
<line x1="580.3" y1="875.8" x2="580.3" y2="879.0" stroke="#000" stroke-width="1.2"/>
<text transform="translate(585.8,887.1) rotate(-60)" font-size="11.3" text-anchor="end">siOCT4</text>
<line x1="623.5" y1="875.8" x2="623.5" y2="879.0" stroke="#000" stroke-width="1.2"/>
<text transform="translate(629.0,887.1) rotate(-60)" font-size="11.3" text-anchor="end">siSOX2/OCT4</text>
</svg></body></html>
